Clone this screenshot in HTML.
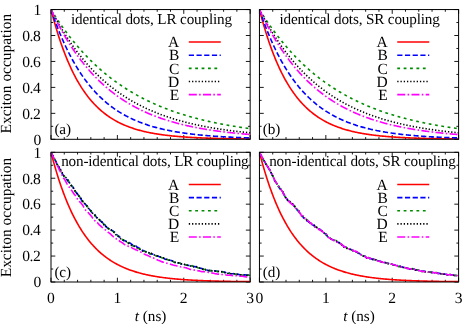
<!DOCTYPE html>
<html><head><meta charset="utf-8"><title>Exciton occupation</title>
<style>html,body{margin:0;padding:0;background:#fff}body{width:463px;height:324px;overflow:hidden}svg{will-change:transform;transform:translateZ(0)}text{text-rendering:geometricPrecision}</style>
</head><body>
<svg width="463" height="324" viewBox="0 0 463 324" style="display:block">
<rect width="463" height="324" fill="#fff"/>
<defs>
<clipPath id="c00"><rect x="51" y="9.55" width="199.15" height="129.75"/></clipPath>
<clipPath id="c01"><rect x="51" y="152.3" width="199.15" height="129.7"/></clipPath>
<clipPath id="c10"><rect x="259.45" y="9.55" width="199.15" height="129.75"/></clipPath>
<clipPath id="c11"><rect x="259.45" y="152.3" width="199.15" height="129.7"/></clipPath>
</defs>
<path d="M51 139.3v-4.3M51 9.55v4.3M64.28 139.3v-2.2M64.28 9.55v2.2M77.55 139.3v-2.2M77.55 9.55v2.2M90.83 139.3v-2.2M90.83 9.55v2.2M104.11 139.3v-2.2M104.11 9.55v2.2M117.38 139.3v-4.3M117.38 9.55v4.3M130.66 139.3v-2.2M130.66 9.55v2.2M143.94 139.3v-2.2M143.94 9.55v2.2M157.21 139.3v-2.2M157.21 9.55v2.2M170.49 139.3v-2.2M170.49 9.55v2.2M183.77 139.3v-4.3M183.77 9.55v4.3M197.04 139.3v-2.2M197.04 9.55v2.2M210.32 139.3v-2.2M210.32 9.55v2.2M223.6 139.3v-2.2M223.6 9.55v2.2M236.87 139.3v-2.2M236.87 9.55v2.2M250.15 139.3v-4.3M250.15 9.55v4.3M51 139.3h4.3M250.15 139.3h-4.3M51 126.33h2.2M250.15 126.33h-2.2M51 113.35h4.3M250.15 113.35h-4.3M51 100.38h2.2M250.15 100.38h-2.2M51 87.4h4.3M250.15 87.4h-4.3M51 74.43h2.2M250.15 74.43h-2.2M51 61.45h4.3M250.15 61.45h-4.3M51 48.48h2.2M250.15 48.48h-2.2M51 35.5h4.3M250.15 35.5h-4.3M51 22.53h2.2M250.15 22.53h-2.2M51 9.55h4.3M250.15 9.55h-4.3" stroke="#000" stroke-width="0.9" fill="none"/>
<g clip-path="url(#c00)" fill="none" stroke-width="1.6">
<polyline points="51,9.55 51.83,12.75 52.66,15.88 53.49,18.93 54.32,21.9 55.15,24.8 55.98,27.62 56.81,30.38 57.64,33.07 58.47,35.69 59.3,38.25 60.13,40.75 60.96,43.18 61.79,45.55 62.62,47.87 63.45,50.12 64.28,52.33 65.11,54.47 65.94,56.57 66.77,58.61 67.6,60.6 68.43,62.55 69.26,64.44 70.09,66.29 70.92,68.09 71.74,69.85 72.57,71.56 73.4,73.24 74.23,74.87 75.06,76.46 75.89,78.01 76.72,79.52 77.55,81 78.38,82.44 79.21,83.84 80.04,85.21 80.87,86.55 81.7,87.85 82.53,89.12 83.36,90.36 84.19,91.57 85.02,92.75 85.85,93.9 86.68,95.02 87.51,96.11 88.34,97.18 89.17,98.22 90,99.23 90.83,100.22 91.66,101.18 92.49,102.13 93.32,103.04 94.15,103.94 94.98,104.81 95.81,105.66 96.64,106.49 97.47,107.3 98.3,108.09 99.13,108.86 99.96,109.62 100.79,110.35 101.62,111.06 102.45,111.76 103.28,112.44 104.11,113.1 104.94,113.75 105.77,114.38 106.6,115 107.43,115.6 108.26,116.18 109.09,116.75 109.92,117.31 110.75,117.85 111.57,118.38 112.4,118.9 113.23,119.4 114.06,119.89 114.89,120.37 115.72,120.84 116.55,121.3 117.38,121.74 118.21,122.17 119.04,122.6 119.87,123.01 120.7,123.41 121.53,123.8 122.36,124.19 123.19,124.56 124.02,124.92 124.85,125.28 125.68,125.62 126.51,125.96 127.34,126.29 128.17,126.61 129,126.93 129.83,127.23 130.66,127.53 131.49,127.82 132.32,128.1 133.15,128.38 133.98,128.65 134.81,128.91 135.64,129.17 136.47,129.42 137.3,129.66 138.13,129.9 138.96,130.13 139.79,130.36 140.62,130.58 141.45,130.8 142.28,131.01 143.11,131.21 143.94,131.41 144.77,131.6 145.6,131.79 146.43,131.98 147.26,132.16 148.09,132.34 148.92,132.51 149.75,132.68 150.58,132.84 151.4,133 152.23,133.16 153.06,133.31 153.89,133.45 154.72,133.6 155.55,133.74 156.38,133.88 157.21,134.01 158.04,134.14 158.87,134.27 159.7,134.39 160.53,134.51 161.36,134.63 162.19,134.75 163.02,134.86 163.85,134.97 164.68,135.08 165.51,135.18 166.34,135.28 167.17,135.38 168,135.48 168.83,135.57 169.66,135.66 170.49,135.75 171.32,135.84 172.15,135.93 172.98,136.01 173.81,136.09 174.64,136.17 175.47,136.25 176.3,136.32 177.13,136.4 177.96,136.47 178.79,136.54 179.62,136.61 180.45,136.67 181.28,136.74 182.11,136.8 182.94,136.86 183.77,136.92 184.6,136.98 185.43,137.04 186.26,137.1 187.09,137.15 187.92,137.2 188.75,137.25 189.58,137.31 190.41,137.35 191.23,137.4 192.06,137.45 192.89,137.49 193.72,137.54 194.55,137.58 195.38,137.63 196.21,137.67 197.04,137.71 197.87,137.75 198.7,137.78 199.53,137.82 200.36,137.86 201.19,137.89 202.02,137.93 202.85,137.96 203.68,138 204.51,138.03 205.34,138.06 206.17,138.09 207,138.12 207.83,138.15 208.66,138.18 209.49,138.21 210.32,138.23 211.15,138.26 211.98,138.28 212.81,138.31 213.64,138.33 214.47,138.36 215.3,138.38 216.13,138.4 216.96,138.43 217.79,138.45 218.62,138.47 219.45,138.49 220.28,138.51 221.11,138.53 221.94,138.55 222.77,138.57 223.6,138.58 224.43,138.6 225.26,138.62 226.09,138.64 226.92,138.65 227.75,138.67 228.58,138.68 229.41,138.7 230.24,138.71 231.06,138.73 231.89,138.74 232.72,138.76 233.55,138.77 234.38,138.78 235.21,138.8 236.04,138.81 236.87,138.82 237.7,138.83 238.53,138.84 239.36,138.85 240.19,138.87 241.02,138.88 241.85,138.89 242.68,138.9 243.51,138.91 244.34,138.92 245.17,138.93 246,138.94 246.83,138.94 247.66,138.95 248.49,138.96 249.32,138.97 250.15,138.98" stroke="#ff0000"/>
<polyline points="51,9.55 51.83,11.98 52.66,14.37 53.49,16.72 54.32,19.02 55.15,21.27 55.98,23.49 56.81,25.66 57.64,27.79 58.47,29.88 59.3,31.94 60.13,33.95 60.96,35.93 61.79,37.87 62.62,39.77 63.45,41.64 64.28,43.47 65.11,45.27 65.94,47.03 66.77,48.76 67.6,50.46 68.43,52.13 69.26,53.76 70.09,55.37 70.92,56.94 71.74,58.49 72.57,60 73.4,61.49 74.23,62.95 75.06,64.38 75.89,65.79 76.72,67.17 77.55,68.52 78.38,69.85 79.21,71.15 80.04,72.43 80.87,73.69 81.7,74.92 82.53,76.12 83.36,77.31 84.19,78.47 85.02,79.61 85.85,80.73 86.68,81.83 87.51,82.91 88.34,83.97 89.17,85.01 90,86.03 90.83,87.02 91.66,88.01 92.49,88.97 93.32,89.91 94.15,90.84 94.98,91.75 95.81,92.64 96.64,93.52 97.47,94.37 98.3,95.22 99.13,96.04 99.96,96.86 100.79,97.65 101.62,98.43 102.45,99.2 103.28,99.95 104.11,100.69 104.94,101.42 105.77,102.13 106.6,102.82 107.43,103.51 108.26,104.18 109.09,104.84 109.92,105.48 110.75,106.12 111.57,106.74 112.4,107.35 113.23,107.95 114.06,108.54 114.89,109.12 115.72,109.68 116.55,110.24 117.38,110.78 118.21,111.32 119.04,111.84 119.87,112.36 120.7,112.86 121.53,113.36 122.36,113.85 123.19,114.32 124.02,114.79 124.85,115.25 125.68,115.7 126.51,116.15 127.34,116.58 128.17,117.01 129,117.43 129.83,117.84 130.66,118.24 131.49,118.63 132.32,119.02 133.15,119.4 133.98,119.78 134.81,120.14 135.64,120.5 136.47,120.85 137.3,121.2 138.13,121.54 138.96,121.87 139.79,122.2 140.62,122.52 141.45,122.84 142.28,123.14 143.11,123.45 143.94,123.74 144.77,124.04 145.6,124.32 146.43,124.6 147.26,124.88 148.09,125.15 148.92,125.42 149.75,125.68 150.58,125.93 151.4,126.18 152.23,126.43 153.06,126.67 153.89,126.91 154.72,127.14 155.55,127.37 156.38,127.59 157.21,127.81 158.04,128.03 158.87,128.24 159.7,128.45 160.53,128.65 161.36,128.85 162.19,129.05 163.02,129.24 163.85,129.43 164.68,129.61 165.51,129.79 166.34,129.97 167.17,130.15 168,130.32 168.83,130.49 169.66,130.65 170.49,130.81 171.32,130.97 172.15,131.13 172.98,131.28 173.81,131.43 174.64,131.58 175.47,131.73 176.3,131.87 177.13,132.01 177.96,132.14 178.79,132.28 179.62,132.41 180.45,132.54 181.28,132.67 182.11,132.79 182.94,132.91 183.77,133.03 184.6,133.15 185.43,133.27 186.26,133.38 187.09,133.49 187.92,133.6 188.75,133.71 189.58,133.81 190.41,133.91 191.23,134.02 192.06,134.11 192.89,134.21 193.72,134.31 194.55,134.4 195.38,134.49 196.21,134.58 197.04,134.67 197.87,134.76 198.7,134.84 199.53,134.93 200.36,135.01 201.19,135.09 202.02,135.17 202.85,135.25 203.68,135.32 204.51,135.4 205.34,135.47 206.17,135.54 207,135.61 207.83,135.68 208.66,135.75 209.49,135.82 210.32,135.88 211.15,135.95 211.98,136.01 212.81,136.07 213.64,136.13 214.47,136.19 215.3,136.25 216.13,136.31 216.96,136.36 217.79,136.42 218.62,136.47 219.45,136.52 220.28,136.58 221.11,136.63 221.94,136.68 222.77,136.73 223.6,136.78 224.43,136.82 225.26,136.87 226.09,136.91 226.92,136.96 227.75,137 228.58,137.05 229.41,137.09 230.24,137.13 231.06,137.17 231.89,137.21 232.72,137.25 233.55,137.29 234.38,137.33 235.21,137.36 236.04,137.4 236.87,137.44 237.7,137.47 238.53,137.5 239.36,137.54 240.19,137.57 241.02,137.6 241.85,137.64 242.68,137.67 243.51,137.7 244.34,137.73 245.17,137.76 246,137.79 246.83,137.81 247.66,137.84 248.49,137.87 249.32,137.9 250.15,137.92" stroke="#0000ff" stroke-dasharray="5.2 2.5"/>
<polyline points="51,9.55 51.83,10.89 52.66,12.23 53.49,13.54 54.32,14.85 55.15,16.13 55.98,17.41 56.81,18.67 57.64,19.92 58.47,21.16 59.3,22.39 60.13,23.6 60.96,24.8 61.79,25.98 62.62,27.16 63.45,28.32 64.28,29.47 65.11,30.61 65.94,31.73 66.77,32.85 67.6,33.95 68.43,35.04 69.26,36.12 70.09,37.19 70.92,38.25 71.74,39.3 72.57,40.33 73.4,41.36 74.23,42.37 75.06,43.38 75.89,44.37 76.72,45.36 77.55,46.33 78.38,47.29 79.21,48.25 80.04,49.19 80.87,50.12 81.7,51.05 82.53,51.96 83.36,52.87 84.19,53.76 85.02,54.65 85.85,55.53 86.68,56.4 87.51,57.25 88.34,58.1 89.17,58.95 90,59.78 90.83,60.6 91.66,61.42 92.49,62.23 93.32,63.02 94.15,63.81 94.98,64.6 95.81,65.37 96.64,66.14 97.47,66.89 98.3,67.65 99.13,68.39 99.96,69.12 100.79,69.85 101.62,70.57 102.45,71.28 103.28,71.99 104.11,72.68 104.94,73.37 105.77,74.06 106.6,74.73 107.43,75.4 108.26,76.06 109.09,76.72 109.92,77.37 110.75,78.01 111.57,78.65 112.4,79.27 113.23,79.9 114.06,80.51 114.89,81.12 115.72,81.72 116.55,82.32 117.38,82.91 118.21,83.5 119.04,84.07 119.87,84.65 120.7,85.21 121.53,85.77 122.36,86.33 123.19,86.88 124.02,87.42 124.85,87.96 125.68,88.49 126.51,89.02 127.34,89.54 128.17,90.05 129,90.56 129.83,91.07 130.66,91.57 131.49,92.06 132.32,92.55 133.15,93.04 133.98,93.52 134.81,93.99 135.64,94.46 136.47,94.92 137.3,95.38 138.13,95.84 138.96,96.29 139.79,96.74 140.62,97.18 141.45,97.61 142.28,98.04 143.11,98.47 143.94,98.9 144.77,99.31 145.6,99.73 146.43,100.14 147.26,100.54 148.09,100.95 148.92,101.34 149.75,101.74 150.58,102.13 151.4,102.51 152.23,102.89 153.06,103.27 153.89,103.64 154.72,104.01 155.55,104.38 156.38,104.74 157.21,105.1 158.04,105.45 158.87,105.8 159.7,106.15 160.53,106.49 161.36,106.83 162.19,107.17 163.02,107.5 163.85,107.83 164.68,108.16 165.51,108.48 166.34,108.8 167.17,109.12 168,109.43 168.83,109.74 169.66,110.05 170.49,110.35 171.32,110.65 172.15,110.95 172.98,111.24 173.81,111.53 174.64,111.82 175.47,112.1 176.3,112.38 177.13,112.66 177.96,112.94 178.79,113.21 179.62,113.48 180.45,113.75 181.28,114.02 182.11,114.28 182.94,114.54 183.77,114.79 184.6,115.05 185.43,115.3 186.26,115.55 187.09,115.79 187.92,116.04 188.75,116.28 189.58,116.52 190.41,116.75 191.23,116.99 192.06,117.22 192.89,117.45 193.72,117.67 194.55,117.9 195.38,118.12 196.21,118.34 197.04,118.56 197.87,118.77 198.7,118.98 199.53,119.19 200.36,119.4 201.19,119.61 202.02,119.81 202.85,120.01 203.68,120.21 204.51,120.41 205.34,120.61 206.17,120.8 207,120.99 207.83,121.18 208.66,121.37 209.49,121.56 210.32,121.74 211.15,121.92 211.98,122.1 212.81,122.28 213.64,122.46 214.47,122.63 215.3,122.8 216.13,122.98 216.96,123.14 217.79,123.31 218.62,123.48 219.45,123.64 220.28,123.8 221.11,123.96 221.94,124.12 222.77,124.28 223.6,124.44 224.43,124.59 225.26,124.74 226.09,124.89 226.92,125.04 227.75,125.19 228.58,125.34 229.41,125.48 230.24,125.62 231.06,125.77 231.89,125.91 232.72,126.05 233.55,126.18 234.38,126.32 235.21,126.45 236.04,126.59 236.87,126.72 237.7,126.85 238.53,126.98 239.36,127.1 240.19,127.23 241.02,127.36 241.85,127.48 242.68,127.6 243.51,127.72 244.34,127.84 245.17,127.96 246,128.08 246.83,128.2 247.66,128.31 248.49,128.43 249.32,128.54 250.15,128.65" stroke="#008c00" stroke-dasharray="2.8 3.6"/>
<polyline points="51,9.55 51.83,11.16 52.66,12.75 53.49,14.33 54.32,15.88 55.15,17.41 55.98,18.93 56.81,20.42 57.64,21.9 58.47,23.36 59.3,24.8 60.13,26.22 60.96,27.62 61.79,29.01 62.62,30.38 63.45,31.73 64.28,33.07 65.11,34.39 65.94,35.69 66.77,36.98 67.6,38.25 68.43,39.51 69.26,40.75 70.09,41.97 70.92,43.18 71.74,44.37 72.57,45.55 73.4,46.72 74.23,47.87 75.06,49 75.89,50.12 76.72,51.23 77.55,52.33 78.38,53.41 79.21,54.47 80.04,55.53 80.87,56.57 81.7,57.6 82.53,58.61 83.36,59.61 84.19,60.6 85.02,61.58 85.85,62.55 86.68,63.5 87.51,64.44 88.34,65.37 89.17,66.29 90,67.2 90.83,68.09 91.66,68.98 92.49,69.85 93.32,70.71 94.15,71.56 94.98,72.41 95.81,73.24 96.64,74.06 97.47,74.87 98.3,75.67 99.13,76.46 99.96,77.24 100.79,78.01 101.62,78.77 102.45,79.52 103.28,80.27 104.11,81 104.94,81.72 105.77,82.44 106.6,83.15 107.43,83.84 108.26,84.53 109.09,85.21 109.92,85.88 110.75,86.55 111.57,87.2 112.4,87.85 113.23,88.49 114.06,89.12 114.89,89.74 115.72,90.36 116.55,90.97 117.38,91.57 118.21,92.16 119.04,92.75 119.87,93.32 120.7,93.9 121.53,94.46 122.36,95.02 123.19,95.57 124.02,96.11 124.85,96.65 125.68,97.18 126.51,97.7 127.34,98.22 128.17,98.73 129,99.23 129.83,99.73 130.66,100.22 131.49,100.71 132.32,101.18 133.15,101.66 133.98,102.13 134.81,102.59 135.64,103.04 136.47,103.49 137.3,103.94 138.13,104.38 138.96,104.81 139.79,105.24 140.62,105.66 141.45,106.08 142.28,106.49 143.11,106.9 143.94,107.3 144.77,107.7 145.6,108.09 146.43,108.48 147.26,108.86 148.09,109.24 148.92,109.62 149.75,109.98 150.58,110.35 151.4,110.71 152.23,111.06 153.06,111.41 153.89,111.76 154.72,112.1 155.55,112.44 156.38,112.77 157.21,113.1 158.04,113.43 158.87,113.75 159.7,114.07 160.53,114.38 161.36,114.69 162.19,115 163.02,115.3 163.85,115.6 164.68,115.89 165.51,116.18 166.34,116.47 167.17,116.75 168,117.03 168.83,117.31 169.66,117.58 170.49,117.85 171.32,118.12 172.15,118.38 172.98,118.64 173.81,118.9 174.64,119.15 175.47,119.4 176.3,119.65 177.13,119.89 177.96,120.13 178.79,120.37 179.62,120.61 180.45,120.84 181.28,121.07 182.11,121.3 182.94,121.52 183.77,121.74 184.6,121.96 185.43,122.17 186.26,122.39 187.09,122.6 187.92,122.8 188.75,123.01 189.58,123.21 190.41,123.41 191.23,123.61 192.06,123.8 192.89,124 193.72,124.19 194.55,124.37 195.38,124.56 196.21,124.74 197.04,124.92 197.87,125.1 198.7,125.28 199.53,125.45 200.36,125.62 201.19,125.79 202.02,125.96 202.85,126.13 203.68,126.29 204.51,126.45 205.34,126.61 206.17,126.77 207,126.93 207.83,127.08 208.66,127.23 209.49,127.38 210.32,127.53 211.15,127.68 211.98,127.82 212.81,127.96 213.64,128.1 214.47,128.24 215.3,128.38 216.13,128.52 216.96,128.65 217.79,128.78 218.62,128.91 219.45,129.04 220.28,129.17 221.11,129.29 221.94,129.42 222.77,129.54 223.6,129.66 224.43,129.78 225.26,129.9 226.09,130.02 226.92,130.13 227.75,130.25 228.58,130.36 229.41,130.47 230.24,130.58 231.06,130.69 231.89,130.8 232.72,130.9 233.55,131.01 234.38,131.11 235.21,131.21 236.04,131.31 236.87,131.41 237.7,131.51 238.53,131.6 239.36,131.7 240.19,131.79 241.02,131.89 241.85,131.98 242.68,132.07 243.51,132.16 244.34,132.25 245.17,132.34 246,132.42 246.83,132.51 247.66,132.59 248.49,132.68 249.32,132.76 250.15,132.84" stroke="#000000" stroke-dasharray="1.3 1.94"/>
<polyline points="51,9.55 51.83,11.32 52.66,13.07 53.49,14.79 54.32,16.49 55.15,18.16 55.98,19.81 56.81,21.44 57.64,23.05 58.47,24.64 59.3,26.2 60.13,27.75 60.96,29.27 61.79,30.77 62.62,32.25 63.45,33.71 64.28,35.15 65.11,36.57 65.94,37.97 66.77,39.35 67.6,40.72 68.43,42.06 69.26,43.39 70.09,44.7 70.92,45.99 71.74,47.26 72.57,48.52 73.4,49.76 74.23,50.98 75.06,52.18 75.89,53.37 76.72,54.54 77.55,55.7 78.38,56.84 79.21,57.96 80.04,59.07 80.87,60.17 81.7,61.25 82.53,62.31 83.36,63.36 84.19,64.4 85.02,65.42 85.85,66.43 86.68,67.42 87.51,68.4 88.34,69.37 89.17,70.33 90,71.27 90.83,72.19 91.66,73.11 92.49,74.01 93.32,74.9 94.15,75.78 94.98,76.65 95.81,77.5 96.64,78.35 97.47,79.18 98.3,80 99.13,80.81 99.96,81.61 100.79,82.39 101.62,83.17 102.45,83.93 103.28,84.69 104.11,85.43 104.94,86.17 105.77,86.89 106.6,87.61 107.43,88.31 108.26,89.01 109.09,89.7 109.92,90.37 110.75,91.04 111.57,91.7 112.4,92.35 113.23,92.99 114.06,93.62 114.89,94.24 115.72,94.86 116.55,95.46 117.38,96.06 118.21,96.65 119.04,97.23 119.87,97.81 120.7,98.37 121.53,98.93 122.36,99.48 123.19,100.03 124.02,100.56 124.85,101.09 125.68,101.61 126.51,102.13 127.34,102.63 128.17,103.13 129,103.63 129.83,104.11 130.66,104.59 131.49,105.07 132.32,105.53 133.15,105.99 133.98,106.45 134.81,106.9 135.64,107.34 136.47,107.78 137.3,108.21 138.13,108.63 138.96,109.05 139.79,109.46 140.62,109.87 141.45,110.27 142.28,110.67 143.11,111.06 143.94,111.44 144.77,111.82 145.6,112.2 146.43,112.57 147.26,112.93 148.09,113.29 148.92,113.65 149.75,114 150.58,114.34 151.4,114.68 152.23,115.02 153.06,115.35 153.89,115.67 154.72,116 155.55,116.32 156.38,116.63 157.21,116.94 158.04,117.24 158.87,117.54 159.7,117.84 160.53,118.13 161.36,118.42 162.19,118.71 163.02,118.99 163.85,119.27 164.68,119.54 165.51,119.81 166.34,120.07 167.17,120.34 168,120.59 168.83,120.85 169.66,121.1 170.49,121.35 171.32,121.59 172.15,121.84 172.98,122.07 173.81,122.31 174.64,122.54 175.47,122.77 176.3,123 177.13,123.22 177.96,123.44 178.79,123.65 179.62,123.87 180.45,124.08 181.28,124.29 182.11,124.49 182.94,124.69 183.77,124.89 184.6,125.09 185.43,125.28 186.26,125.47 187.09,125.66 187.92,125.85 188.75,126.03 189.58,126.21 190.41,126.39 191.23,126.57 192.06,126.74 192.89,126.91 193.72,127.08 194.55,127.25 195.38,127.41 196.21,127.57 197.04,127.73 197.87,127.89 198.7,128.05 199.53,128.2 200.36,128.35 201.19,128.5 202.02,128.65 202.85,128.79 203.68,128.94 204.51,129.08 205.34,129.22 206.17,129.36 207,129.49 207.83,129.63 208.66,129.76 209.49,129.89 210.32,130.02 211.15,130.14 211.98,130.27 212.81,130.39 213.64,130.51 214.47,130.63 215.3,130.75 216.13,130.87 216.96,130.98 217.79,131.1 218.62,131.21 219.45,131.32 220.28,131.43 221.11,131.53 221.94,131.64 222.77,131.75 223.6,131.85 224.43,131.95 225.26,132.05 226.09,132.15 226.92,132.25 227.75,132.34 228.58,132.44 229.41,132.53 230.24,132.62 231.06,132.71 231.89,132.8 232.72,132.89 233.55,132.98 234.38,133.07 235.21,133.15 236.04,133.24 236.87,133.32 237.7,133.4 238.53,133.48 239.36,133.56 240.19,133.64 241.02,133.72 241.85,133.79 242.68,133.87 243.51,133.94 244.34,134.01 245.17,134.09 246,134.16 246.83,134.23 247.66,134.3 248.49,134.36 249.32,134.43 250.15,134.5" stroke="#ff00ff" stroke-dasharray="8 2.3 1.6 2.3"/>
</g>
<rect x="51" y="9.55" width="199.15" height="129.75" fill="none" stroke="#000" stroke-width="1"/>
<g font-family='"Liberation Serif", serif' font-size="15.2" fill="#000">
<text x="70.9" y="24" letter-spacing="-0.16">identical dots, LR coupling</text>
<text x="54.4" y="134.3" letter-spacing="-0.1">(a)</text>
<text x="179.3" y="47.3" font-size="15.5" text-anchor="end">A</text>
<path d="M188.8 42.05H220.8" stroke="#ff0000" stroke-width="1.6" fill="none"/>
<text x="179.3" y="60.45" font-size="15.5" text-anchor="end">B</text>
<path d="M188.8 55.2H220.8" stroke="#0000ff" stroke-width="1.6" stroke-dasharray="5.2 2.5" fill="none"/>
<text x="179.3" y="73.6" font-size="15.5" text-anchor="end">C</text>
<path d="M188.8 68.35H220.8" stroke="#008c00" stroke-width="1.6" stroke-dasharray="2.8 3.6" fill="none"/>
<text x="179.3" y="86.75" font-size="15.5" text-anchor="end">D</text>
<path d="M188.8 81.5H220.8" stroke="#000000" stroke-width="1.6" stroke-dasharray="1.3 1.94" fill="none"/>
<text x="179.3" y="99.9" font-size="15.5" text-anchor="end">E</text>
<path d="M188.8 94.65H220.8" stroke="#ff00ff" stroke-width="1.6" stroke-dasharray="8 2.3 1.6 2.3" fill="none"/>
<text x="41.2" y="144.6" font-size="15.6" text-anchor="end">0</text>
<text x="40.3" y="118.65" font-size="15.6" text-anchor="end" letter-spacing="-0.45">0.2</text>
<text x="40.3" y="92.7" font-size="15.6" text-anchor="end" letter-spacing="-0.45">0.4</text>
<text x="40.3" y="66.75" font-size="15.6" text-anchor="end" letter-spacing="-0.45">0.6</text>
<text x="40.3" y="40.8" font-size="15.6" text-anchor="end" letter-spacing="-0.45">0.8</text>
<text x="41.2" y="14.85" font-size="15.6" text-anchor="end">1</text>
<text transform="translate(11.1 73.7) rotate(-90)" font-size="15.45" text-anchor="middle">Exciton occupation</text>
</g>
<path d="M259.45 139.3v-4.3M259.45 9.55v4.3M272.73 139.3v-2.2M272.73 9.55v2.2M286 139.3v-2.2M286 9.55v2.2M299.28 139.3v-2.2M299.28 9.55v2.2M312.56 139.3v-2.2M312.56 9.55v2.2M325.83 139.3v-4.3M325.83 9.55v4.3M339.11 139.3v-2.2M339.11 9.55v2.2M352.39 139.3v-2.2M352.39 9.55v2.2M365.66 139.3v-2.2M365.66 9.55v2.2M378.94 139.3v-2.2M378.94 9.55v2.2M392.22 139.3v-4.3M392.22 9.55v4.3M405.49 139.3v-2.2M405.49 9.55v2.2M418.77 139.3v-2.2M418.77 9.55v2.2M432.05 139.3v-2.2M432.05 9.55v2.2M445.32 139.3v-2.2M445.32 9.55v2.2M458.6 139.3v-4.3M458.6 9.55v4.3M259.45 139.3h4.3M458.6 139.3h-4.3M259.45 126.33h2.2M458.6 126.33h-2.2M259.45 113.35h4.3M458.6 113.35h-4.3M259.45 100.38h2.2M458.6 100.38h-2.2M259.45 87.4h4.3M458.6 87.4h-4.3M259.45 74.43h2.2M458.6 74.43h-2.2M259.45 61.45h4.3M458.6 61.45h-4.3M259.45 48.48h2.2M458.6 48.48h-2.2M259.45 35.5h4.3M458.6 35.5h-4.3M259.45 22.53h2.2M458.6 22.53h-2.2M259.45 9.55h4.3M458.6 9.55h-4.3" stroke="#000" stroke-width="0.9" fill="none"/>
<g clip-path="url(#c10)" fill="none" stroke-width="1.6">
<polyline points="259.45,9.55 260.28,12.75 261.11,15.88 261.94,18.93 262.77,21.9 263.6,24.8 264.43,27.62 265.26,30.38 266.09,33.07 266.92,35.69 267.75,38.25 268.58,40.75 269.41,43.18 270.24,45.55 271.07,47.87 271.9,50.12 272.73,52.33 273.56,54.47 274.39,56.57 275.22,58.61 276.05,60.6 276.88,62.55 277.71,64.44 278.54,66.29 279.37,68.09 280.19,69.85 281.02,71.56 281.85,73.24 282.68,74.87 283.51,76.46 284.34,78.01 285.17,79.52 286,81 286.83,82.44 287.66,83.84 288.49,85.21 289.32,86.55 290.15,87.85 290.98,89.12 291.81,90.36 292.64,91.57 293.47,92.75 294.3,93.9 295.13,95.02 295.96,96.11 296.79,97.18 297.62,98.22 298.45,99.23 299.28,100.22 300.11,101.18 300.94,102.13 301.77,103.04 302.6,103.94 303.43,104.81 304.26,105.66 305.09,106.49 305.92,107.3 306.75,108.09 307.58,108.86 308.41,109.62 309.24,110.35 310.07,111.06 310.9,111.76 311.73,112.44 312.56,113.1 313.39,113.75 314.22,114.38 315.05,115 315.88,115.6 316.71,116.18 317.54,116.75 318.37,117.31 319.19,117.85 320.02,118.38 320.85,118.9 321.68,119.4 322.51,119.89 323.34,120.37 324.17,120.84 325,121.3 325.83,121.74 326.66,122.17 327.49,122.6 328.32,123.01 329.15,123.41 329.98,123.8 330.81,124.19 331.64,124.56 332.47,124.92 333.3,125.28 334.13,125.62 334.96,125.96 335.79,126.29 336.62,126.61 337.45,126.93 338.28,127.23 339.11,127.53 339.94,127.82 340.77,128.1 341.6,128.38 342.43,128.65 343.26,128.91 344.09,129.17 344.92,129.42 345.75,129.66 346.58,129.9 347.41,130.13 348.24,130.36 349.07,130.58 349.9,130.8 350.73,131.01 351.56,131.21 352.39,131.41 353.22,131.6 354.05,131.79 354.88,131.98 355.71,132.16 356.54,132.34 357.37,132.51 358.2,132.68 359.02,132.84 359.85,133 360.68,133.16 361.51,133.31 362.34,133.45 363.17,133.6 364,133.74 364.83,133.88 365.66,134.01 366.49,134.14 367.32,134.27 368.15,134.39 368.98,134.51 369.81,134.63 370.64,134.75 371.47,134.86 372.3,134.97 373.13,135.08 373.96,135.18 374.79,135.28 375.62,135.38 376.45,135.48 377.28,135.57 378.11,135.66 378.94,135.75 379.77,135.84 380.6,135.93 381.43,136.01 382.26,136.09 383.09,136.17 383.92,136.25 384.75,136.32 385.58,136.4 386.41,136.47 387.24,136.54 388.07,136.61 388.9,136.67 389.73,136.74 390.56,136.8 391.39,136.86 392.22,136.92 393.05,136.98 393.88,137.04 394.71,137.1 395.54,137.15 396.37,137.2 397.2,137.25 398.03,137.31 398.86,137.35 399.68,137.4 400.51,137.45 401.34,137.49 402.17,137.54 403,137.58 403.83,137.63 404.66,137.67 405.49,137.71 406.32,137.75 407.15,137.78 407.98,137.82 408.81,137.86 409.64,137.89 410.47,137.93 411.3,137.96 412.13,138 412.96,138.03 413.79,138.06 414.62,138.09 415.45,138.12 416.28,138.15 417.11,138.18 417.94,138.21 418.77,138.23 419.6,138.26 420.43,138.28 421.26,138.31 422.09,138.33 422.92,138.36 423.75,138.38 424.58,138.4 425.41,138.43 426.24,138.45 427.07,138.47 427.9,138.49 428.73,138.51 429.56,138.53 430.39,138.55 431.22,138.57 432.05,138.58 432.88,138.6 433.71,138.62 434.54,138.64 435.37,138.65 436.2,138.67 437.03,138.68 437.86,138.7 438.69,138.71 439.51,138.73 440.34,138.74 441.17,138.76 442,138.77 442.83,138.78 443.66,138.8 444.49,138.81 445.32,138.82 446.15,138.83 446.98,138.84 447.81,138.85 448.64,138.87 449.47,138.88 450.3,138.89 451.13,138.9 451.96,138.91 452.79,138.92 453.62,138.93 454.45,138.94 455.28,138.94 456.11,138.95 456.94,138.96 457.77,138.97 458.6,138.98" stroke="#ff0000"/>
<polyline points="259.45,9.55 260.28,12 261.11,14.41 261.94,16.77 262.77,19.09 263.6,21.36 264.43,23.59 265.26,25.78 266.09,27.92 266.92,30.03 267.75,32.09 268.58,34.12 269.41,36.11 270.24,38.06 271.07,39.97 271.9,41.85 272.73,43.69 273.56,45.5 274.39,47.27 275.22,49.01 276.05,50.72 276.88,52.39 277.71,54.04 278.54,55.65 279.37,57.23 280.19,58.78 281.02,60.3 281.85,61.8 282.68,63.26 283.51,64.7 284.34,66.11 285.17,67.49 286,68.85 286.83,70.18 287.66,71.49 288.49,72.77 289.32,74.03 290.15,75.26 290.98,76.47 291.81,77.66 292.64,78.82 293.47,79.97 294.3,81.09 295.13,82.19 295.96,83.27 296.79,84.33 297.62,85.37 298.45,86.39 299.28,87.39 300.11,88.37 300.94,89.33 301.77,90.28 302.6,91.2 303.43,92.11 304.26,93 305.09,93.88 305.92,94.74 306.75,95.58 307.58,96.41 308.41,97.22 309.24,98.01 310.07,98.79 310.9,99.56 311.73,100.31 312.56,101.05 313.39,101.77 314.22,102.48 315.05,103.18 315.88,103.86 316.71,104.53 317.54,105.19 318.37,105.83 319.19,106.46 320.02,107.08 320.85,107.69 321.68,108.29 322.51,108.88 323.34,109.45 324.17,110.02 325,110.57 325.83,111.11 326.66,111.64 327.49,112.17 328.32,112.68 329.15,113.18 329.98,113.68 330.81,114.16 331.64,114.64 332.47,115.1 333.3,115.56 334.13,116.01 334.96,116.45 335.79,116.88 336.62,117.31 337.45,117.72 338.28,118.13 339.11,118.53 339.94,118.92 340.77,119.31 341.6,119.68 342.43,120.06 343.26,120.42 344.09,120.78 344.92,121.13 345.75,121.47 346.58,121.81 347.41,122.14 348.24,122.46 349.07,122.78 349.9,123.09 350.73,123.4 351.56,123.7 352.39,123.99 353.22,124.28 354.05,124.57 354.88,124.85 355.71,125.12 356.54,125.39 357.37,125.65 358.2,125.91 359.02,126.16 359.85,126.41 360.68,126.65 361.51,126.89 362.34,127.13 363.17,127.36 364,127.58 364.83,127.8 365.66,128.02 366.49,128.24 367.32,128.44 368.15,128.65 368.98,128.85 369.81,129.05 370.64,129.24 371.47,129.43 372.3,129.62 373.13,129.8 373.96,129.98 374.79,130.16 375.62,130.33 376.45,130.5 377.28,130.67 378.11,130.83 378.94,130.99 379.77,131.15 380.6,131.3 381.43,131.45 382.26,131.6 383.09,131.75 383.92,131.89 384.75,132.03 385.58,132.17 386.41,132.3 387.24,132.43 388.07,132.56 388.9,132.69 389.73,132.82 390.56,132.94 391.39,133.06 392.22,133.18 393.05,133.29 393.88,133.41 394.71,133.52 395.54,133.63 396.37,133.73 397.2,133.84 398.03,133.94 398.86,134.04 399.68,134.14 400.51,134.24 401.34,134.34 402.17,134.43 403,134.52 403.83,134.61 404.66,134.7 405.49,134.79 406.32,134.87 407.15,134.96 407.98,135.04 408.81,135.12 409.64,135.2 410.47,135.28 411.3,135.35 412.13,135.43 412.96,135.5 413.79,135.57 414.62,135.64 415.45,135.71 416.28,135.78 417.11,135.85 417.94,135.91 418.77,135.97 419.6,136.04 420.43,136.1 421.26,136.16 422.09,136.22 422.92,136.28 423.75,136.33 424.58,136.39 425.41,136.45 426.24,136.5 427.07,136.55 427.9,136.6 428.73,136.66 429.56,136.71 430.39,136.75 431.22,136.8 432.05,136.85 432.88,136.9 433.71,136.94 434.54,136.99 435.37,137.03 436.2,137.07 437.03,137.11 437.86,137.16 438.69,137.2 439.51,137.24 440.34,137.28 441.17,137.31 442,137.35 442.83,137.39 443.66,137.42 444.49,137.46 445.32,137.49 446.15,137.53 446.98,137.56 447.81,137.6 448.64,137.63 449.47,137.66 450.3,137.69 451.13,137.72 451.96,137.75 452.79,137.78 453.62,137.81 454.45,137.84 455.28,137.86 456.11,137.89 456.94,137.92 457.77,137.94 458.6,137.97" stroke="#0000ff" stroke-dasharray="5.2 2.5"/>
<polyline points="259.45,9.55 260.28,10.89 261.11,12.23 261.94,13.54 262.77,14.85 263.6,16.13 264.43,17.41 265.26,18.67 266.09,19.92 266.92,21.16 267.75,22.39 268.58,23.6 269.41,24.8 270.24,25.98 271.07,27.16 271.9,28.32 272.73,29.47 273.56,30.61 274.39,31.73 275.22,32.85 276.05,33.95 276.88,35.04 277.71,36.12 278.54,37.19 279.37,38.25 280.19,39.3 281.02,40.33 281.85,41.36 282.68,42.37 283.51,43.38 284.34,44.37 285.17,45.36 286,46.33 286.83,47.29 287.66,48.25 288.49,49.19 289.32,50.12 290.15,51.05 290.98,51.96 291.81,52.87 292.64,53.76 293.47,54.65 294.3,55.53 295.13,56.4 295.96,57.25 296.79,58.1 297.62,58.95 298.45,59.78 299.28,60.6 300.11,61.42 300.94,62.23 301.77,63.02 302.6,63.81 303.43,64.6 304.26,65.37 305.09,66.14 305.92,66.89 306.75,67.65 307.58,68.39 308.41,69.12 309.24,69.85 310.07,70.57 310.9,71.28 311.73,71.99 312.56,72.68 313.39,73.37 314.22,74.06 315.05,74.73 315.88,75.4 316.71,76.06 317.54,76.72 318.37,77.37 319.19,78.01 320.02,78.65 320.85,79.27 321.68,79.9 322.51,80.51 323.34,81.12 324.17,81.72 325,82.32 325.83,82.91 326.66,83.5 327.49,84.07 328.32,84.65 329.15,85.21 329.98,85.77 330.81,86.33 331.64,86.88 332.47,87.42 333.3,87.96 334.13,88.49 334.96,89.02 335.79,89.54 336.62,90.05 337.45,90.56 338.28,91.07 339.11,91.57 339.94,92.06 340.77,92.55 341.6,93.04 342.43,93.52 343.26,93.99 344.09,94.46 344.92,94.92 345.75,95.38 346.58,95.84 347.41,96.29 348.24,96.74 349.07,97.18 349.9,97.61 350.73,98.04 351.56,98.47 352.39,98.9 353.22,99.31 354.05,99.73 354.88,100.14 355.71,100.54 356.54,100.95 357.37,101.34 358.2,101.74 359.02,102.13 359.85,102.51 360.68,102.89 361.51,103.27 362.34,103.64 363.17,104.01 364,104.38 364.83,104.74 365.66,105.1 366.49,105.45 367.32,105.8 368.15,106.15 368.98,106.49 369.81,106.83 370.64,107.17 371.47,107.5 372.3,107.83 373.13,108.16 373.96,108.48 374.79,108.8 375.62,109.12 376.45,109.43 377.28,109.74 378.11,110.05 378.94,110.35 379.77,110.65 380.6,110.95 381.43,111.24 382.26,111.53 383.09,111.82 383.92,112.1 384.75,112.38 385.58,112.66 386.41,112.94 387.24,113.21 388.07,113.48 388.9,113.75 389.73,114.02 390.56,114.28 391.39,114.54 392.22,114.79 393.05,115.05 393.88,115.3 394.71,115.55 395.54,115.79 396.37,116.04 397.2,116.28 398.03,116.52 398.86,116.75 399.68,116.99 400.51,117.22 401.34,117.45 402.17,117.67 403,117.9 403.83,118.12 404.66,118.34 405.49,118.56 406.32,118.77 407.15,118.98 407.98,119.19 408.81,119.4 409.64,119.61 410.47,119.81 411.3,120.01 412.13,120.21 412.96,120.41 413.79,120.61 414.62,120.8 415.45,120.99 416.28,121.18 417.11,121.37 417.94,121.56 418.77,121.74 419.6,121.92 420.43,122.1 421.26,122.28 422.09,122.46 422.92,122.63 423.75,122.8 424.58,122.98 425.41,123.14 426.24,123.31 427.07,123.48 427.9,123.64 428.73,123.8 429.56,123.96 430.39,124.12 431.22,124.28 432.05,124.44 432.88,124.59 433.71,124.74 434.54,124.89 435.37,125.04 436.2,125.19 437.03,125.34 437.86,125.48 438.69,125.62 439.51,125.77 440.34,125.91 441.17,126.05 442,126.18 442.83,126.32 443.66,126.45 444.49,126.59 445.32,126.72 446.15,126.85 446.98,126.98 447.81,127.1 448.64,127.23 449.47,127.36 450.3,127.48 451.13,127.6 451.96,127.72 452.79,127.84 453.62,127.96 454.45,128.08 455.28,128.2 456.11,128.31 456.94,128.43 457.77,128.54 458.6,128.65" stroke="#008c00" stroke-dasharray="2.8 3.6"/>
<polyline points="259.45,9.55 260.28,11.16 261.11,12.75 261.94,14.33 262.77,15.88 263.6,17.41 264.43,18.93 265.26,20.42 266.09,21.9 266.92,23.36 267.75,24.8 268.58,26.22 269.41,27.62 270.24,29.01 271.07,30.38 271.9,31.73 272.73,33.07 273.56,34.39 274.39,35.69 275.22,36.98 276.05,38.25 276.88,39.51 277.71,40.75 278.54,41.97 279.37,43.18 280.19,44.37 281.02,45.55 281.85,46.72 282.68,47.87 283.51,49 284.34,50.12 285.17,51.23 286,52.33 286.83,53.41 287.66,54.47 288.49,55.53 289.32,56.57 290.15,57.6 290.98,58.61 291.81,59.61 292.64,60.6 293.47,61.58 294.3,62.55 295.13,63.5 295.96,64.44 296.79,65.37 297.62,66.29 298.45,67.2 299.28,68.09 300.11,68.98 300.94,69.85 301.77,70.71 302.6,71.56 303.43,72.41 304.26,73.24 305.09,74.06 305.92,74.87 306.75,75.67 307.58,76.46 308.41,77.24 309.24,78.01 310.07,78.77 310.9,79.52 311.73,80.27 312.56,81 313.39,81.72 314.22,82.44 315.05,83.15 315.88,83.84 316.71,84.53 317.54,85.21 318.37,85.88 319.19,86.55 320.02,87.2 320.85,87.85 321.68,88.49 322.51,89.12 323.34,89.74 324.17,90.36 325,90.97 325.83,91.57 326.66,92.16 327.49,92.75 328.32,93.32 329.15,93.9 329.98,94.46 330.81,95.02 331.64,95.57 332.47,96.11 333.3,96.65 334.13,97.18 334.96,97.7 335.79,98.22 336.62,98.73 337.45,99.23 338.28,99.73 339.11,100.22 339.94,100.71 340.77,101.18 341.6,101.66 342.43,102.13 343.26,102.59 344.09,103.04 344.92,103.49 345.75,103.94 346.58,104.38 347.41,104.81 348.24,105.24 349.07,105.66 349.9,106.08 350.73,106.49 351.56,106.9 352.39,107.3 353.22,107.7 354.05,108.09 354.88,108.48 355.71,108.86 356.54,109.24 357.37,109.62 358.2,109.98 359.02,110.35 359.85,110.71 360.68,111.06 361.51,111.41 362.34,111.76 363.17,112.1 364,112.44 364.83,112.77 365.66,113.1 366.49,113.43 367.32,113.75 368.15,114.07 368.98,114.38 369.81,114.69 370.64,115 371.47,115.3 372.3,115.6 373.13,115.89 373.96,116.18 374.79,116.47 375.62,116.75 376.45,117.03 377.28,117.31 378.11,117.58 378.94,117.85 379.77,118.12 380.6,118.38 381.43,118.64 382.26,118.9 383.09,119.15 383.92,119.4 384.75,119.65 385.58,119.89 386.41,120.13 387.24,120.37 388.07,120.61 388.9,120.84 389.73,121.07 390.56,121.3 391.39,121.52 392.22,121.74 393.05,121.96 393.88,122.17 394.71,122.39 395.54,122.6 396.37,122.8 397.2,123.01 398.03,123.21 398.86,123.41 399.68,123.61 400.51,123.8 401.34,124 402.17,124.19 403,124.37 403.83,124.56 404.66,124.74 405.49,124.92 406.32,125.1 407.15,125.28 407.98,125.45 408.81,125.62 409.64,125.79 410.47,125.96 411.3,126.13 412.13,126.29 412.96,126.45 413.79,126.61 414.62,126.77 415.45,126.93 416.28,127.08 417.11,127.23 417.94,127.38 418.77,127.53 419.6,127.68 420.43,127.82 421.26,127.96 422.09,128.1 422.92,128.24 423.75,128.38 424.58,128.52 425.41,128.65 426.24,128.78 427.07,128.91 427.9,129.04 428.73,129.17 429.56,129.29 430.39,129.42 431.22,129.54 432.05,129.66 432.88,129.78 433.71,129.9 434.54,130.02 435.37,130.13 436.2,130.25 437.03,130.36 437.86,130.47 438.69,130.58 439.51,130.69 440.34,130.8 441.17,130.9 442,131.01 442.83,131.11 443.66,131.21 444.49,131.31 445.32,131.41 446.15,131.51 446.98,131.6 447.81,131.7 448.64,131.79 449.47,131.89 450.3,131.98 451.13,132.07 451.96,132.16 452.79,132.25 453.62,132.34 454.45,132.42 455.28,132.51 456.11,132.59 456.94,132.68 457.77,132.76 458.6,132.84" stroke="#000000" stroke-dasharray="1.3 1.94"/>
<polyline points="259.45,9.55 260.28,11.33 261.11,13.09 261.94,14.82 262.77,16.52 263.6,18.21 264.43,19.87 265.26,21.51 266.09,23.12 266.92,24.72 267.75,26.29 268.58,27.84 269.41,29.37 270.24,30.88 271.07,32.36 271.9,33.83 272.73,35.28 273.56,36.7 274.39,38.11 275.22,39.5 276.05,40.87 276.88,42.22 277.71,43.55 278.54,44.86 279.37,46.16 280.19,47.44 281.02,48.7 281.85,49.94 282.68,51.17 283.51,52.37 284.34,53.57 285.17,54.74 286,55.9 286.83,57.05 287.66,58.17 288.49,59.29 289.32,60.38 290.15,61.47 290.98,62.54 291.81,63.59 292.64,64.63 293.47,65.65 294.3,66.66 295.13,67.66 295.96,68.64 296.79,69.61 297.62,70.57 298.45,71.51 299.28,72.44 300.11,73.36 300.94,74.26 301.77,75.15 302.6,76.03 303.43,76.9 304.26,77.76 305.09,78.6 305.92,79.43 306.75,80.25 307.58,81.06 308.41,81.86 309.24,82.65 310.07,83.43 310.9,84.19 311.73,84.95 312.56,85.7 313.39,86.43 314.22,87.16 315.05,87.87 315.88,88.58 316.71,89.27 317.54,89.96 318.37,90.64 319.19,91.3 320.02,91.96 320.85,92.61 321.68,93.25 322.51,93.88 323.34,94.51 324.17,95.12 325,95.73 325.83,96.32 326.66,96.91 327.49,97.5 328.32,98.07 329.15,98.63 329.98,99.19 330.81,99.74 331.64,100.28 332.47,100.82 333.3,101.35 334.13,101.87 334.96,102.38 335.79,102.89 336.62,103.39 337.45,103.88 338.28,104.37 339.11,104.85 339.94,105.32 340.77,105.78 341.6,106.24 342.43,106.7 343.26,107.14 344.09,107.59 344.92,108.02 345.75,108.45 346.58,108.87 347.41,109.29 348.24,109.7 349.07,110.11 349.9,110.51 350.73,110.9 351.56,111.29 352.39,111.68 353.22,112.06 354.05,112.43 354.88,112.8 355.71,113.16 356.54,113.52 357.37,113.87 358.2,114.22 359.02,114.57 359.85,114.91 360.68,115.24 361.51,115.57 362.34,115.9 363.17,116.22 364,116.53 364.83,116.85 365.66,117.15 366.49,117.46 367.32,117.76 368.15,118.05 368.98,118.34 369.81,118.63 370.64,118.92 371.47,119.19 372.3,119.47 373.13,119.74 373.96,120.01 374.79,120.28 375.62,120.54 376.45,120.79 377.28,121.05 378.11,121.3 378.94,121.55 379.77,121.79 380.6,122.03 381.43,122.27 382.26,122.5 383.09,122.73 383.92,122.96 384.75,123.18 385.58,123.4 386.41,123.62 387.24,123.84 388.07,124.05 388.9,124.26 389.73,124.46 390.56,124.67 391.39,124.87 392.22,125.07 393.05,125.26 393.88,125.45 394.71,125.64 395.54,125.83 396.37,126.02 397.2,126.2 398.03,126.38 398.86,126.55 399.68,126.73 400.51,126.9 401.34,127.07 402.17,127.24 403,127.41 403.83,127.57 404.66,127.73 405.49,127.89 406.32,128.04 407.15,128.2 407.98,128.35 408.81,128.5 409.64,128.65 410.47,128.8 411.3,128.94 412.13,129.08 412.96,129.22 413.79,129.36 414.62,129.5 415.45,129.63 416.28,129.76 417.11,129.89 417.94,130.02 418.77,130.15 419.6,130.28 420.43,130.4 421.26,130.52 422.09,130.64 422.92,130.76 423.75,130.88 424.58,130.99 425.41,131.11 426.24,131.22 427.07,131.33 427.9,131.44 428.73,131.55 429.56,131.65 430.39,131.76 431.22,131.86 432.05,131.96 432.88,132.07 433.71,132.16 434.54,132.26 435.37,132.36 436.2,132.45 437.03,132.55 437.86,132.64 438.69,132.73 439.51,132.82 440.34,132.91 441.17,133 442,133.09 442.83,133.17 443.66,133.25 444.49,133.34 445.32,133.42 446.15,133.5 446.98,133.58 447.81,133.66 448.64,133.74 449.47,133.81 450.3,133.89 451.13,133.96 451.96,134.03 452.79,134.11 453.62,134.18 454.45,134.25 455.28,134.32 456.11,134.39 456.94,134.45 457.77,134.52 458.6,134.59" stroke="#ff00ff" stroke-dasharray="8 2.3 1.6 2.3"/>
</g>
<rect x="259.45" y="9.55" width="199.15" height="129.75" fill="none" stroke="#000" stroke-width="1"/>
<g font-family='"Liberation Serif", serif' font-size="15.2" fill="#000">
<text x="279.5" y="24" letter-spacing="-0.16">identical dots, SR coupling</text>
<text x="262.85" y="134.3" letter-spacing="-0.1">(b)</text>
<text x="387.75" y="47.3" font-size="15.5" text-anchor="end">A</text>
<path d="M397.25 42.05H429.25" stroke="#ff0000" stroke-width="1.6" fill="none"/>
<text x="387.75" y="60.45" font-size="15.5" text-anchor="end">B</text>
<path d="M397.25 55.2H429.25" stroke="#0000ff" stroke-width="1.6" stroke-dasharray="5.2 2.5" fill="none"/>
<text x="387.75" y="73.6" font-size="15.5" text-anchor="end">C</text>
<path d="M397.25 68.35H429.25" stroke="#008c00" stroke-width="1.6" stroke-dasharray="2.8 3.6" fill="none"/>
<text x="387.75" y="86.75" font-size="15.5" text-anchor="end">D</text>
<path d="M397.25 81.5H429.25" stroke="#000000" stroke-width="1.6" stroke-dasharray="1.3 1.94" fill="none"/>
<text x="387.75" y="99.9" font-size="15.5" text-anchor="end">E</text>
<path d="M397.25 94.65H429.25" stroke="#ff00ff" stroke-width="1.6" stroke-dasharray="8 2.3 1.6 2.3" fill="none"/>
</g>
<path d="M51 282v-4.3M51 152.3v4.3M64.28 282v-2.2M64.28 152.3v2.2M77.55 282v-2.2M77.55 152.3v2.2M90.83 282v-2.2M90.83 152.3v2.2M104.11 282v-2.2M104.11 152.3v2.2M117.38 282v-4.3M117.38 152.3v4.3M130.66 282v-2.2M130.66 152.3v2.2M143.94 282v-2.2M143.94 152.3v2.2M157.21 282v-2.2M157.21 152.3v2.2M170.49 282v-2.2M170.49 152.3v2.2M183.77 282v-4.3M183.77 152.3v4.3M197.04 282v-2.2M197.04 152.3v2.2M210.32 282v-2.2M210.32 152.3v2.2M223.6 282v-2.2M223.6 152.3v2.2M236.87 282v-2.2M236.87 152.3v2.2M250.15 282v-4.3M250.15 152.3v4.3M51 282h4.3M250.15 282h-4.3M51 269.03h2.2M250.15 269.03h-2.2M51 256.06h4.3M250.15 256.06h-4.3M51 243.09h2.2M250.15 243.09h-2.2M51 230.12h4.3M250.15 230.12h-4.3M51 217.15h2.2M250.15 217.15h-2.2M51 204.18h4.3M250.15 204.18h-4.3M51 191.21h2.2M250.15 191.21h-2.2M51 178.24h4.3M250.15 178.24h-4.3M51 165.27h2.2M250.15 165.27h-2.2M51 152.3h4.3M250.15 152.3h-4.3" stroke="#000" stroke-width="0.9" fill="none"/>
<g clip-path="url(#c01)" fill="none" stroke-width="1.6">
<polyline points="51,152.3 51.83,155.5 52.66,158.63 53.49,161.67 54.32,164.64 55.15,167.54 55.98,170.37 56.81,173.12 57.64,175.81 58.47,178.43 59.3,180.99 60.13,183.48 60.96,185.92 61.79,188.29 62.62,190.6 63.45,192.86 64.28,195.06 65.11,197.21 65.94,199.3 66.77,201.34 67.6,203.33 68.43,205.28 69.26,207.17 70.09,209.02 70.92,210.82 71.74,212.58 72.57,214.29 73.4,215.96 74.23,217.59 75.06,219.18 75.89,220.73 76.72,222.25 77.55,223.72 78.38,225.16 79.21,226.56 80.04,227.93 80.87,229.27 81.7,230.57 82.53,231.84 83.36,233.08 84.19,234.29 85.02,235.46 85.85,236.61 86.68,237.73 87.51,238.83 88.34,239.89 89.17,240.93 90,241.95 90.83,242.94 91.66,243.9 92.49,244.84 93.32,245.76 94.15,246.65 94.98,247.53 95.81,248.38 96.64,249.21 97.47,250.02 98.3,250.81 99.13,251.58 99.96,252.33 100.79,253.06 101.62,253.77 102.45,254.47 103.28,255.15 104.11,255.81 104.94,256.46 105.77,257.09 106.6,257.71 107.43,258.31 108.26,258.89 109.09,259.46 109.92,260.02 110.75,260.56 111.57,261.09 112.4,261.61 113.23,262.11 114.06,262.6 114.89,263.08 115.72,263.55 116.55,264 117.38,264.45 118.21,264.88 119.04,265.3 119.87,265.72 120.7,266.12 121.53,266.51 122.36,266.89 123.19,267.27 124.02,267.63 124.85,267.98 125.68,268.33 126.51,268.67 127.34,269 128.17,269.32 129,269.63 129.83,269.94 130.66,270.23 131.49,270.52 132.32,270.81 133.15,271.08 133.98,271.35 134.81,271.62 135.64,271.87 136.47,272.12 137.3,272.37 138.13,272.6 138.96,272.84 139.79,273.06 140.62,273.28 141.45,273.5 142.28,273.71 143.11,273.91 143.94,274.11 144.77,274.31 145.6,274.5 146.43,274.68 147.26,274.86 148.09,275.04 148.92,275.21 149.75,275.38 150.58,275.54 151.4,275.7 152.23,275.86 153.06,276.01 153.89,276.16 154.72,276.3 155.55,276.44 156.38,276.58 157.21,276.71 158.04,276.84 158.87,276.97 159.7,277.1 160.53,277.22 161.36,277.33 162.19,277.45 163.02,277.56 163.85,277.67 164.68,277.78 165.51,277.88 166.34,277.98 167.17,278.08 168,278.18 168.83,278.27 169.66,278.37 170.49,278.46 171.32,278.54 172.15,278.63 172.98,278.71 173.81,278.79 174.64,278.87 175.47,278.95 176.3,279.03 177.13,279.1 177.96,279.17 178.79,279.24 179.62,279.31 180.45,279.37 181.28,279.44 182.11,279.5 182.94,279.56 183.77,279.62 184.6,279.68 185.43,279.74 186.26,279.8 187.09,279.85 187.92,279.9 188.75,279.96 189.58,280.01 190.41,280.06 191.23,280.1 192.06,280.15 192.89,280.2 193.72,280.24 194.55,280.28 195.38,280.33 196.21,280.37 197.04,280.41 197.87,280.45 198.7,280.49 199.53,280.52 200.36,280.56 201.19,280.59 202.02,280.63 202.85,280.66 203.68,280.7 204.51,280.73 205.34,280.76 206.17,280.79 207,280.82 207.83,280.85 208.66,280.88 209.49,280.91 210.32,280.93 211.15,280.96 211.98,280.98 212.81,281.01 213.64,281.03 214.47,281.06 215.3,281.08 216.13,281.1 216.96,281.13 217.79,281.15 218.62,281.17 219.45,281.19 220.28,281.21 221.11,281.23 221.94,281.25 222.77,281.27 223.6,281.28 224.43,281.3 225.26,281.32 226.09,281.34 226.92,281.35 227.75,281.37 228.58,281.38 229.41,281.4 230.24,281.41 231.06,281.43 231.89,281.44 232.72,281.46 233.55,281.47 234.38,281.48 235.21,281.5 236.04,281.51 236.87,281.52 237.7,281.53 238.53,281.54 239.36,281.56 240.19,281.57 241.02,281.58 241.85,281.59 242.68,281.6 243.51,281.61 244.34,281.62 245.17,281.63 246,281.64 246.83,281.64 247.66,281.65 248.49,281.66 249.32,281.67 250.15,281.68" stroke="#ff0000"/>
<polyline points="51,152.3 51.83,153.87 52.66,155.42 53.49,157 54.32,158.7 55.15,160.21 55.98,161.91 56.81,163.66 57.64,165.09 58.47,166.6 59.3,168.05 60.13,169.64 60.96,171.01 61.79,172.43 62.62,174.35 63.45,175.55 64.28,176.84 65.11,177.25 65.94,178.34 66.77,179.62 67.6,180.64 68.43,181.62 69.26,182.57 70.09,184.07 70.92,185.18 71.74,185.88 72.57,186.45 73.4,187.93 74.23,189.7 75.06,190.83 75.89,192.21 76.72,193.14 77.55,194.13 78.38,195.18 79.21,196.23 80.04,197.75 80.87,198.71 81.7,200.66 82.53,201.64 83.36,202.82 84.19,202.86 85.02,203.87 85.85,204.7 86.68,205.65 87.51,206.75 88.34,208.35 89.17,208.99 90,210.04 90.83,210.77 91.66,212.34 92.49,213.02 93.32,213.37 94.15,213.57 94.98,214.87 95.81,216.45 96.64,217.42 97.47,217.74 98.3,218.35 99.13,219.18 99.96,220.39 100.79,221.28 101.62,221.71 102.45,222.6 103.28,223.86 104.11,224.76 104.94,224.98 105.77,226.38 106.6,227.06 107.43,227.98 108.26,228.58 109.09,229.06 109.92,229.53 110.75,229.73 111.57,230.27 112.4,230.69 113.23,231.29 114.06,232.11 114.89,232.36 115.72,233.96 116.55,234.68 117.38,235.07 118.21,236.18 119.04,236.51 119.87,237.16 120.7,238.38 121.53,238.87 122.36,239.68 123.19,240.31 124.02,240.71 124.85,240.61 125.68,240.94 126.51,241.21 127.34,241.61 128.17,242.45 129,242.53 129.83,243.13 130.66,243.37 131.49,244.08 132.32,244.82 133.15,245.25 133.98,245.36 134.81,245.52 135.64,245.92 136.47,246.45 137.3,247.34 138.13,247.52 138.96,248.05 139.79,248.37 140.62,249.08 141.45,249.6 142.28,250.22 143.11,250.65 143.94,250.84 144.77,251.18 145.6,251.49 146.43,251.73 147.26,251.76 148.09,252.57 148.92,252.9 149.75,253.66 150.58,253.9 151.4,253.67 152.23,254.01 153.06,254.39 153.89,254.75 154.72,254.91 155.55,255.23 156.38,255.76 157.21,255.84 158.04,256 158.87,256.44 159.7,256.83 160.53,257.17 161.36,257.41 162.19,257.78 163.02,258 163.85,258.34 164.68,258.96 165.51,259.28 166.34,259.44 167.17,259.48 168,259.73 168.83,260.1 169.66,260.32 170.49,260.35 171.32,260.42 172.15,260.9 172.98,261.23 173.81,261.83 174.64,262.3 175.47,262.4 176.3,262.62 177.13,262.73 177.96,262.93 178.79,263.06 179.62,263.12 180.45,263.46 181.28,263.94 182.11,264.03 182.94,263.88 183.77,264.06 184.6,264.6 185.43,264.8 186.26,264.78 187.09,265.3 187.92,265.3 188.75,265.56 189.58,265.61 190.41,265.57 191.23,265.85 192.06,265.73 192.89,266.13 193.72,266.48 194.55,266.46 195.38,266.8 196.21,266.63 197.04,266.88 197.87,267.36 198.7,267.66 199.53,267.93 200.36,268.18 201.19,268.41 202.02,268.5 202.85,269.06 203.68,269.39 204.51,269.48 205.34,269.4 206.17,269.89 207,270.04 207.83,270.44 208.66,270.65 209.49,270.63 210.32,270.79 211.15,270.62 211.98,270.85 212.81,271.01 213.64,270.93 214.47,270.85 215.3,271.06 216.13,271.1 216.96,271.45 217.79,271.26 218.62,271.41 219.45,271.66 220.28,271.73 221.11,271.71 221.94,271.51 222.77,271.7 223.6,272 224.43,272.13 225.26,272.38 226.09,272.69 226.92,272.76 227.75,273.01 228.58,272.91 229.41,273.06 230.24,273.59 231.06,273.67 231.89,273.81 232.72,273.75 233.55,273.72 234.38,273.78 235.21,273.84 236.04,273.98 236.87,274 237.7,274.36 238.53,274.4 239.36,274.6 240.19,274.78 241.02,274.82 241.85,274.71 242.68,274.96 243.51,274.8 244.34,274.91 245.17,274.92 246,274.98 246.83,275.08 247.66,275.07 248.49,274.99 249.32,274.99 250.15,275.05" stroke="#0000ff" stroke-dasharray="5.2 2.5"/>
<polyline points="51,152.3 51.83,153.83 52.66,155.38 53.49,156.93 54.32,158.64 55.15,160.2 55.98,161.9 56.81,163.8 57.64,165.25 58.47,166.66 59.3,167.99 60.13,169.49 60.96,170.84 61.79,172.36 62.62,174.13 63.45,175.17 64.28,176.22 65.11,176.65 65.94,177.62 66.77,178.94 67.6,179.67 68.43,180.91 69.26,181.71 70.09,183.45 70.92,184.84 71.74,185.93 72.57,187.11 73.4,188.21 74.23,190.07 75.06,191.16 75.89,192.07 76.72,192.81 77.55,194.09 78.38,195.06 79.21,196.21 80.04,197.38 80.87,198.08 81.7,199.56 82.53,200.9 83.36,202.45 84.19,202.93 85.02,204.15 85.85,204.98 86.68,205.87 87.51,206.98 88.34,208.68 89.17,209.15 90,210.16 90.83,210.65 91.66,212.13 92.49,213.23 93.32,213.63 94.15,214.11 94.98,215.59 95.81,216.97 96.64,217.89 97.47,218.19 98.3,218.87 99.13,219.57 99.96,220.61 100.79,220.95 101.62,221.34 102.45,222.3 103.28,223.59 104.11,224.59 104.94,224.91 105.77,226.13 106.6,226.88 107.43,227.79 108.26,228.27 109.09,228.81 109.92,229.51 110.75,229.42 111.57,230.25 112.4,230.51 113.23,231.39 114.06,232.31 114.89,232.71 115.72,234.45 116.55,234.94 117.38,235.32 118.21,236.21 119.04,236.5 119.87,237.15 120.7,238.32 121.53,238.75 122.36,239.41 123.19,239.81 124.02,240.36 124.85,240.46 125.68,241 126.51,241.46 127.34,241.89 128.17,242.99 129,242.95 129.83,243.64 130.66,243.9 131.49,244.65 132.32,245.46 133.15,246.1 133.98,245.78 134.81,246.02 135.64,246.59 136.47,247.15 137.3,247.93 138.13,248.36 138.96,248.72 139.79,248.89 140.62,249.54 141.45,249.95 142.28,250.54 143.11,250.96 143.94,251.11 144.77,251.47 145.6,251.57 146.43,251.66 147.26,251.77 148.09,252.55 148.92,252.77 149.75,253.55 150.58,253.87 151.4,253.67 152.23,254.06 153.06,254.52 153.89,254.89 154.72,255.24 155.55,255.58 156.38,256.08 157.21,256.21 158.04,256.33 158.87,256.94 159.7,257.24 160.53,257.58 161.36,257.66 162.19,257.83 163.02,257.92 163.85,258.33 164.68,258.93 165.51,259.11 166.34,259.27 167.17,259.38 168,259.85 168.83,260.19 169.66,260.33 170.49,260.4 171.32,260.38 172.15,260.96 172.98,261.3 173.81,261.95 174.64,262.47 175.47,262.65 176.3,262.81 177.13,262.84 177.96,262.98 178.79,263.08 179.62,263.05 180.45,263.44 181.28,263.83 182.11,263.99 182.94,263.8 183.77,264.01 184.6,264.54 185.43,264.72 186.26,264.73 187.09,265.24 187.92,265.36 188.75,265.78 189.58,265.77 190.41,265.88 191.23,266.01 192.06,265.69 192.89,266.14 193.72,266.64 194.55,266.51 195.38,266.97 196.21,266.85 197.04,267.23 197.87,267.76 198.7,268.02 199.53,268.12 200.36,268.21 201.19,268.39 202.02,268.43 202.85,269.05 203.68,269.35 204.51,269.49 205.34,269.29 206.17,269.73 207,269.87 207.83,270.22 208.66,270.37 209.49,270.41 210.32,270.57 211.15,270.48 211.98,270.72 212.81,270.85 213.64,270.84 214.47,270.82 215.3,271.08 216.13,271.12 216.96,271.52 217.79,271.35 218.62,271.59 219.45,271.66 220.28,271.73 221.11,271.87 221.94,271.74 222.77,272.01 223.6,272.3 224.43,272.41 225.26,272.66 226.09,273.09 226.92,272.97 227.75,273.25 228.58,273.19 229.41,273.45 230.24,273.96 231.06,273.97 231.89,274.08 232.72,273.9 233.55,273.96 234.38,274.03 235.21,274.1 236.04,274.09 236.87,274.22 237.7,274.41 238.53,274.44 239.36,274.64 240.19,274.89 241.02,274.84 241.85,274.9 242.68,275.16 243.51,274.97 244.34,275.12 245.17,275.16 246,275.18 246.83,275.28 247.66,275.36 248.49,275.25 249.32,275.21 250.15,275.32" stroke="#008c00" stroke-dasharray="2.8 3.6"/>
<polyline points="51,152.3 51.83,153.87 52.66,155.4 53.49,157.01 54.32,158.56 55.15,160.1 55.98,161.87 56.81,163.57 57.64,165.09 58.47,166.47 59.3,167.48 60.13,169.04 60.96,170.51 61.79,171.65 62.62,173.78 63.45,175.19 64.28,176.32 65.11,176.47 65.94,177.67 66.77,179.03 67.6,179.6 68.43,181.21 69.26,182.21 70.09,183.98 70.92,185.4 71.74,186.25 72.57,186.98 73.4,188.04 74.23,189.65 75.06,190.84 75.89,192.24 76.72,193.15 77.55,194.44 78.38,195.24 79.21,196.59 80.04,197.45 80.87,198.18 81.7,200.13 82.53,200.98 83.36,202.69 84.19,202.9 85.02,204.03 85.85,204.61 86.68,205.5 87.51,206.65 88.34,208.13 89.17,208.87 90,210.02 90.83,210.66 91.66,212.22 92.49,213.13 93.32,213.74 94.15,213.98 94.98,215.4 95.81,216.92 96.64,217.61 97.47,218.26 98.3,218.8 99.13,219.39 99.96,220.52 100.79,221.47 101.62,221.68 102.45,222.71 103.28,223.9 104.11,224.98 104.94,225.14 105.77,226.29 106.6,226.93 107.43,227.86 108.26,228.5 109.09,229.04 109.92,229.52 110.75,229.71 111.57,230.28 112.4,230.62 113.23,231.49 114.06,232.26 114.89,232.89 115.72,234.5 116.55,235.14 117.38,235.41 118.21,236.33 119.04,236.65 119.87,237.38 120.7,238.71 121.53,239.05 122.36,239.75 123.19,240.22 124.02,240.67 124.85,240.82 125.68,241.37 126.51,241.79 127.34,242.24 128.17,243.41 129,243.39 129.83,243.93 130.66,244.51 131.49,245.32 132.32,245.76 133.15,246.15 133.98,246.27 134.81,246.39 135.64,246.98 136.47,247.59 137.3,248.13 138.13,248.45 138.96,248.95 139.79,249.22 140.62,250 141.45,250.33 142.28,250.87 143.11,251.26 143.94,251.24 144.77,251.57 145.6,251.82 146.43,251.84 147.26,251.79 148.09,252.48 148.92,252.78 149.75,253.65 150.58,253.94 151.4,253.52 152.23,253.93 153.06,254.31 153.89,254.73 154.72,255.06 155.55,255.27 156.38,255.88 157.21,256 158.04,256.1 158.87,256.47 159.7,256.78 160.53,257 161.36,257.18 162.19,257.4 163.02,257.72 163.85,258.16 164.68,258.89 165.51,259.38 166.34,259.31 167.17,259.21 168,259.58 168.83,260.04 169.66,260.25 170.49,260.19 171.32,260.32 172.15,260.9 172.98,261.25 173.81,261.78 174.64,262.19 175.47,262.39 176.3,262.63 177.13,262.65 177.96,262.75 178.79,262.84 179.62,262.76 180.45,263.26 181.28,263.8 182.11,264.1 182.94,263.83 183.77,263.98 184.6,264.44 185.43,264.63 186.26,264.68 187.09,265.21 187.92,265.4 188.75,265.78 189.58,265.76 190.41,265.93 191.23,266.11 192.06,266.06 192.89,266.52 193.72,266.85 194.55,266.68 195.38,267.03 196.21,266.85 197.04,267.14 197.87,267.55 198.7,267.71 199.53,268 200.36,268.21 201.19,268.47 202.02,268.54 202.85,269.2 203.68,269.41 204.51,269.66 205.34,269.54 206.17,270.12 207,270.22 207.83,270.5 208.66,270.64 209.49,270.62 210.32,270.65 211.15,270.58 211.98,270.86 212.81,270.97 213.64,270.91 214.47,270.94 215.3,271.14 216.13,271.16 216.96,271.34 217.79,271.33 218.62,271.44 219.45,271.62 220.28,271.72 221.11,271.83 221.94,271.7 222.77,271.99 223.6,272.21 224.43,272.4 225.26,272.69 226.09,273.04 226.92,273.04 227.75,273.34 228.58,273.21 229.41,273.43 230.24,273.89 231.06,273.74 231.89,273.82 232.72,273.69 233.55,273.66 234.38,273.73 235.21,273.82 236.04,274.05 236.87,274.22 237.7,274.46 238.53,274.5 239.36,274.77 240.19,274.91 241.02,274.87 241.85,274.79 242.68,275.01 243.51,274.95 244.34,275.16 245.17,275.27 246,275.32 246.83,275.32 247.66,275.41 248.49,275.22 249.32,275.26 250.15,275.34" stroke="#000000" stroke-dasharray="1.3 1.94"/>
<polyline points="51,152.3 51.83,154.07 52.66,155.83 53.49,157.52 54.32,159.16 55.15,160.94 55.98,162.77 56.81,164.49 57.64,166.22 58.47,168.04 59.3,169.86 60.13,171.21 60.96,172.89 61.79,174.54 62.62,176.03 63.45,178.06 64.28,179.09 65.11,180.38 65.94,181.91 66.77,183.5 67.6,185.01 68.43,185.75 69.26,187.21 70.09,188.4 70.92,189.68 71.74,190.41 72.57,191.79 73.4,192.97 74.23,194.36 75.06,195.18 75.89,196.53 76.72,197.49 77.55,199.18 78.38,200.06 79.21,201.33 80.04,202.22 80.87,202.8 81.7,204.02 82.53,205.02 83.36,206.41 84.19,207.68 85.02,209.13 85.85,210.44 86.68,210.89 87.51,211.57 88.34,212.86 89.17,213.75 90,214.62 90.83,215.67 91.66,216.39 92.49,217.89 93.32,218.62 94.15,220.02 94.98,220.83 95.81,222.1 96.64,222.3 97.47,222.73 98.3,223.66 99.13,224.59 99.96,225.36 100.79,226.07 101.62,226.89 102.45,227.59 103.28,228.21 104.11,228.74 104.94,229.55 105.77,230.18 106.6,230.81 107.43,231.64 108.26,232.39 109.09,232.85 109.92,233.5 110.75,234.23 111.57,235.07 112.4,235.77 113.23,236.75 114.06,237.26 114.89,237.57 115.72,238.47 116.55,239.13 117.38,239.74 118.21,240.28 119.04,240.53 119.87,241.42 120.7,241.66 121.53,242.38 122.36,242.81 123.19,243.31 124.02,244.04 124.85,244.65 125.68,245.14 126.51,245.41 127.34,245.8 128.17,246.16 129,246.55 129.83,247.01 130.66,247.35 131.49,247.47 132.32,248.11 133.15,248.47 133.98,248.87 134.81,249.33 135.64,249.68 136.47,250.08 137.3,250.36 138.13,250.73 138.96,251.11 139.79,251.56 140.62,251.93 141.45,252.37 142.28,252.78 143.11,253.44 143.94,253.88 144.77,254.25 145.6,254.75 146.43,255.03 147.26,255.3 148.09,255.66 148.92,256.15 149.75,256.46 150.58,256.97 151.4,257.36 152.23,257.65 153.06,257.87 153.89,258.2 154.72,258.53 155.55,259.03 156.38,259.67 157.21,259.8 158.04,260.19 158.87,260.53 159.7,260.86 160.53,261.17 161.36,261.5 162.19,261.87 163.02,262.1 163.85,262.22 164.68,262.42 165.51,262.66 166.34,262.94 167.17,263.33 168,263.58 168.83,263.85 169.66,264.06 170.49,264.22 171.32,264.42 172.15,264.71 172.98,265.04 173.81,265.17 174.64,265.43 175.47,265.48 176.3,265.79 177.13,266 177.96,266.23 178.79,266.27 179.62,266.44 180.45,266.78 181.28,267.04 182.11,266.87 182.94,267.08 183.77,267.42 184.6,267.51 185.43,267.67 186.26,267.81 187.09,268.24 187.92,268.6 188.75,268.84 189.58,269.17 190.41,269.35 191.23,269.49 192.06,269.65 192.89,269.95 193.72,269.99 194.55,270.1 195.38,270.35 196.21,270.5 197.04,270.64 197.87,270.74 198.7,270.88 199.53,270.88 200.36,271.2 201.19,271.4 202.02,271.64 202.85,271.64 203.68,271.75 204.51,271.74 205.34,271.81 206.17,271.92 207,272.16 207.83,272.24 208.66,272.41 209.49,272.53 210.32,272.77 211.15,272.84 211.98,273.07 212.81,273.08 213.64,273.22 214.47,273.43 215.3,273.71 216.13,273.85 216.96,274.04 217.79,274.09 218.62,274.13 219.45,274.21 220.28,274.36 221.11,274.49 221.94,274.5 222.77,274.54 223.6,274.5 224.43,274.77 225.26,274.84 226.09,275.02 226.92,275.2 227.75,275.14 228.58,275.22 229.41,275.3 230.24,275.3 231.06,275.4 231.89,275.55 232.72,275.6 233.55,275.56 234.38,275.59 235.21,275.61 236.04,275.68 236.87,275.76 237.7,275.87 238.53,275.99 239.36,276.14 240.19,276.21 241.02,276.26 241.85,276.25 242.68,276.32 243.51,276.46 244.34,276.7 245.17,276.76 246,276.85 246.83,276.99 247.66,277.11 248.49,277.26 249.32,277.38 250.15,277.45" stroke="#ff00ff" stroke-dasharray="8 2.3 1.6 2.3"/>
</g>
<rect x="51" y="152.3" width="199.15" height="129.7" fill="none" stroke="#000" stroke-width="1"/>
<g font-family='"Liberation Serif", serif' font-size="15.2" fill="#000">
<text x="61.2" y="166.4" letter-spacing="-0.19">non-identical dots, LR coupling</text>
<text x="54.4" y="276.7" letter-spacing="-0.1">(c)</text>
<text x="179.3" y="189.7" font-size="15.5" text-anchor="end">A</text>
<path d="M188.8 184.45H220.8" stroke="#ff0000" stroke-width="1.6" fill="none"/>
<text x="179.3" y="202.85" font-size="15.5" text-anchor="end">B</text>
<path d="M188.8 197.6H220.8" stroke="#0000ff" stroke-width="1.6" stroke-dasharray="5.2 2.5" fill="none"/>
<text x="179.3" y="216" font-size="15.5" text-anchor="end">C</text>
<path d="M188.8 210.75H220.8" stroke="#008c00" stroke-width="1.6" stroke-dasharray="2.8 3.6" fill="none"/>
<text x="179.3" y="229.15" font-size="15.5" text-anchor="end">D</text>
<path d="M188.8 223.9H220.8" stroke="#000000" stroke-width="1.6" stroke-dasharray="1.3 1.94" fill="none"/>
<text x="179.3" y="242.3" font-size="15.5" text-anchor="end">E</text>
<path d="M188.8 237.05H220.8" stroke="#ff00ff" stroke-width="1.6" stroke-dasharray="8 2.3 1.6 2.3" fill="none"/>
<text x="41.2" y="287.3" font-size="15.6" text-anchor="end">0</text>
<text x="40.3" y="261.36" font-size="15.6" text-anchor="end" letter-spacing="-0.45">0.2</text>
<text x="40.3" y="235.42" font-size="15.6" text-anchor="end" letter-spacing="-0.45">0.4</text>
<text x="40.3" y="209.48" font-size="15.6" text-anchor="end" letter-spacing="-0.45">0.6</text>
<text x="40.3" y="183.54" font-size="15.6" text-anchor="end" letter-spacing="-0.45">0.8</text>
<text x="41.2" y="157.6" font-size="15.6" text-anchor="end">1</text>
<text transform="translate(11.1 217.5) rotate(-90)" font-size="15.45" text-anchor="middle">Exciton occupation</text>
<text x="51" y="302.8" font-size="15.6" text-anchor="middle">0</text>
<text x="117.38" y="302.8" font-size="15.6" text-anchor="middle">1</text>
<text x="183.77" y="302.8" font-size="15.6" text-anchor="middle">2</text>
<text x="250.15" y="302.8" font-size="15.6" text-anchor="middle">3</text>
<text x="150.57" y="320.5" text-anchor="middle"><tspan font-style="italic">t</tspan> (ns)</text>
</g>
<path d="M259.45 282v-4.3M259.45 152.3v4.3M272.73 282v-2.2M272.73 152.3v2.2M286 282v-2.2M286 152.3v2.2M299.28 282v-2.2M299.28 152.3v2.2M312.56 282v-2.2M312.56 152.3v2.2M325.83 282v-4.3M325.83 152.3v4.3M339.11 282v-2.2M339.11 152.3v2.2M352.39 282v-2.2M352.39 152.3v2.2M365.66 282v-2.2M365.66 152.3v2.2M378.94 282v-2.2M378.94 152.3v2.2M392.22 282v-4.3M392.22 152.3v4.3M405.49 282v-2.2M405.49 152.3v2.2M418.77 282v-2.2M418.77 152.3v2.2M432.05 282v-2.2M432.05 152.3v2.2M445.32 282v-2.2M445.32 152.3v2.2M458.6 282v-4.3M458.6 152.3v4.3M259.45 282h4.3M458.6 282h-4.3M259.45 269.03h2.2M458.6 269.03h-2.2M259.45 256.06h4.3M458.6 256.06h-4.3M259.45 243.09h2.2M458.6 243.09h-2.2M259.45 230.12h4.3M458.6 230.12h-4.3M259.45 217.15h2.2M458.6 217.15h-2.2M259.45 204.18h4.3M458.6 204.18h-4.3M259.45 191.21h2.2M458.6 191.21h-2.2M259.45 178.24h4.3M458.6 178.24h-4.3M259.45 165.27h2.2M458.6 165.27h-2.2M259.45 152.3h4.3M458.6 152.3h-4.3" stroke="#000" stroke-width="0.9" fill="none"/>
<g clip-path="url(#c11)" fill="none" stroke-width="1.6">
<polyline points="259.45,152.3 260.28,155.5 261.11,158.63 261.94,161.67 262.77,164.64 263.6,167.54 264.43,170.37 265.26,173.12 266.09,175.81 266.92,178.43 267.75,180.99 268.58,183.48 269.41,185.92 270.24,188.29 271.07,190.6 271.9,192.86 272.73,195.06 273.56,197.21 274.39,199.3 275.22,201.34 276.05,203.33 276.88,205.28 277.71,207.17 278.54,209.02 279.37,210.82 280.19,212.58 281.02,214.29 281.85,215.96 282.68,217.59 283.51,219.18 284.34,220.73 285.17,222.25 286,223.72 286.83,225.16 287.66,226.56 288.49,227.93 289.32,229.27 290.15,230.57 290.98,231.84 291.81,233.08 292.64,234.29 293.47,235.46 294.3,236.61 295.13,237.73 295.96,238.83 296.79,239.89 297.62,240.93 298.45,241.95 299.28,242.94 300.11,243.9 300.94,244.84 301.77,245.76 302.6,246.65 303.43,247.53 304.26,248.38 305.09,249.21 305.92,250.02 306.75,250.81 307.58,251.58 308.41,252.33 309.24,253.06 310.07,253.77 310.9,254.47 311.73,255.15 312.56,255.81 313.39,256.46 314.22,257.09 315.05,257.71 315.88,258.31 316.71,258.89 317.54,259.46 318.37,260.02 319.19,260.56 320.02,261.09 320.85,261.61 321.68,262.11 322.51,262.6 323.34,263.08 324.17,263.55 325,264 325.83,264.45 326.66,264.88 327.49,265.3 328.32,265.72 329.15,266.12 329.98,266.51 330.81,266.89 331.64,267.27 332.47,267.63 333.3,267.98 334.13,268.33 334.96,268.67 335.79,269 336.62,269.32 337.45,269.63 338.28,269.94 339.11,270.23 339.94,270.52 340.77,270.81 341.6,271.08 342.43,271.35 343.26,271.62 344.09,271.87 344.92,272.12 345.75,272.37 346.58,272.6 347.41,272.84 348.24,273.06 349.07,273.28 349.9,273.5 350.73,273.71 351.56,273.91 352.39,274.11 353.22,274.31 354.05,274.5 354.88,274.68 355.71,274.86 356.54,275.04 357.37,275.21 358.2,275.38 359.02,275.54 359.85,275.7 360.68,275.86 361.51,276.01 362.34,276.16 363.17,276.3 364,276.44 364.83,276.58 365.66,276.71 366.49,276.84 367.32,276.97 368.15,277.1 368.98,277.22 369.81,277.33 370.64,277.45 371.47,277.56 372.3,277.67 373.13,277.78 373.96,277.88 374.79,277.98 375.62,278.08 376.45,278.18 377.28,278.27 378.11,278.37 378.94,278.46 379.77,278.54 380.6,278.63 381.43,278.71 382.26,278.79 383.09,278.87 383.92,278.95 384.75,279.03 385.58,279.1 386.41,279.17 387.24,279.24 388.07,279.31 388.9,279.37 389.73,279.44 390.56,279.5 391.39,279.56 392.22,279.62 393.05,279.68 393.88,279.74 394.71,279.8 395.54,279.85 396.37,279.9 397.2,279.96 398.03,280.01 398.86,280.06 399.68,280.1 400.51,280.15 401.34,280.2 402.17,280.24 403,280.28 403.83,280.33 404.66,280.37 405.49,280.41 406.32,280.45 407.15,280.49 407.98,280.52 408.81,280.56 409.64,280.59 410.47,280.63 411.3,280.66 412.13,280.7 412.96,280.73 413.79,280.76 414.62,280.79 415.45,280.82 416.28,280.85 417.11,280.88 417.94,280.91 418.77,280.93 419.6,280.96 420.43,280.98 421.26,281.01 422.09,281.03 422.92,281.06 423.75,281.08 424.58,281.1 425.41,281.13 426.24,281.15 427.07,281.17 427.9,281.19 428.73,281.21 429.56,281.23 430.39,281.25 431.22,281.27 432.05,281.28 432.88,281.3 433.71,281.32 434.54,281.34 435.37,281.35 436.2,281.37 437.03,281.38 437.86,281.4 438.69,281.41 439.51,281.43 440.34,281.44 441.17,281.46 442,281.47 442.83,281.48 443.66,281.5 444.49,281.51 445.32,281.52 446.15,281.53 446.98,281.54 447.81,281.56 448.64,281.57 449.47,281.58 450.3,281.59 451.13,281.6 451.96,281.61 452.79,281.62 453.62,281.63 454.45,281.64 455.28,281.64 456.11,281.65 456.94,281.66 457.77,281.67 458.6,281.68" stroke="#ff0000"/>
<polyline points="259.45,152.3 260.28,153.9 261.11,155.49 261.94,157 262.77,158.57 263.6,160.12 264.43,161.33 265.26,162.85 266.09,164.3 266.92,165.67 267.75,166.82 268.58,168.38 269.41,169.59 270.24,171.31 271.07,172.75 271.9,174.32 272.73,176.08 273.56,178.03 274.39,180.2 275.22,181.62 276.05,182.57 276.88,183.76 277.71,184.82 278.54,186.97 279.37,188.06 280.19,189.15 281.02,189.67 281.85,191.04 282.68,192.02 283.51,193.76 284.34,195.17 285.17,196.93 286,198.46 286.83,198.65 287.66,200.44 288.49,200.93 289.32,201.72 290.15,202.72 290.98,203.27 291.81,203.91 292.64,204.2 293.47,205.19 294.3,206.34 295.13,207.3 295.96,208.67 296.79,209.53 297.62,210.59 298.45,211.02 299.28,212.48 300.11,213.45 300.94,214.55 301.77,216.14 302.6,216.18 303.43,217.74 304.26,218.46 305.09,219.3 305.92,219.46 306.75,220.87 307.58,221.02 308.41,221.73 309.24,222.27 310.07,223.16 310.9,223.61 311.73,224.52 312.56,225.06 313.39,225.36 314.22,225.12 315.05,226.92 315.88,227.07 316.71,227.33 317.54,228.12 318.37,228.59 319.19,229.28 320.02,229.32 320.85,230.06 321.68,230.63 322.51,231.34 323.34,232 324.17,232.75 325,233.75 325.83,233.84 326.66,234.89 327.49,236.46 328.32,236.92 329.15,237.49 329.98,238.09 330.81,238.61 331.64,239.17 332.47,239.7 333.3,239.85 334.13,240.57 334.96,241.09 335.79,241.28 336.62,241.45 337.45,242.16 338.28,242.2 339.11,242.42 339.94,243.39 340.77,244.04 341.6,244.25 342.43,245.1 343.26,245.82 344.09,246.56 344.92,247.24 345.75,247.07 346.58,247.72 347.41,248.5 348.24,248.71 349.07,249.07 349.9,249.31 350.73,249.3 351.56,249.83 352.39,250.33 353.22,250.66 354.05,251.41 354.88,251.73 355.71,251.67 356.54,252.03 357.37,252.48 358.2,252.81 359.02,253.32 359.85,253.85 360.68,254.28 361.51,254.78 362.34,255.24 363.17,255.89 364,255.99 364.83,256.12 365.66,256.86 366.49,257.44 367.32,257.71 368.15,257.62 368.98,258.06 369.81,258.38 370.64,258.77 371.47,258.76 372.3,259.33 373.13,259.19 373.96,259.57 374.79,259.56 375.62,259.72 376.45,260 377.28,260.57 378.11,260.82 378.94,261.08 379.77,261.28 380.6,261.38 381.43,261.76 382.26,261.88 383.09,261.9 383.92,262.09 384.75,262.34 385.58,262.73 386.41,262.84 387.24,262.97 388.07,263.34 388.9,263.53 389.73,263.95 390.56,264.36 391.39,264.31 392.22,264.34 393.05,264.75 393.88,264.85 394.71,264.94 395.54,265.3 396.37,265.52 397.2,265.56 398.03,266.17 398.86,266.17 399.68,266.23 400.51,266.27 401.34,266.84 402.17,266.81 403,267.37 403.83,267.53 404.66,267.57 405.49,267.71 406.32,268.11 407.15,268.4 407.98,268.36 408.81,268.71 409.64,268.85 410.47,268.85 411.3,268.94 412.13,268.82 412.96,269.07 413.79,268.85 414.62,269.36 415.45,269.94 416.28,269.85 417.11,269.96 417.94,270.26 418.77,270.4 419.6,270.86 420.43,270.98 421.26,271.27 422.09,271.28 422.92,271.18 423.75,271.16 424.58,271.19 425.41,271.48 426.24,271.7 427.07,271.79 427.9,272.01 428.73,271.94 429.56,272.28 430.39,272.15 431.22,272.33 432.05,272.36 432.88,272.65 433.71,272.57 434.54,272.71 435.37,272.74 436.2,272.77 437.03,272.94 437.86,273.07 438.69,273.46 439.51,273.39 440.34,273.53 441.17,273.67 442,273.79 442.83,273.59 443.66,273.97 444.49,274.15 445.32,274.3 446.15,274.37 446.98,274.66 447.81,274.81 448.64,274.78 449.47,274.69 450.3,274.51 451.13,274.8 451.96,274.9 452.79,275.06 453.62,275.25 454.45,275.5 455.28,275.43 456.11,275.5 456.94,275.65 457.77,275.62 458.6,275.78" stroke="#0000ff" stroke-dasharray="5.2 2.5"/>
<polyline points="259.45,152.3 260.28,153.88 261.11,155.5 261.94,157.03 262.77,158.66 263.6,160.2 264.43,161.38 265.26,162.82 266.09,164.27 266.92,165.5 267.75,166.61 268.58,168 269.41,169.25 270.24,171 271.07,172.42 271.9,174.12 272.73,175.94 273.56,177.99 274.39,179.94 275.22,181.09 276.05,182.67 276.88,183.77 277.71,184.81 278.54,186.29 279.37,187.33 280.19,188.24 281.02,188.87 281.85,190.57 282.68,191.68 283.51,193.86 284.34,195.11 285.17,197.08 286,198.22 286.83,198.62 287.66,200.13 288.49,200.5 289.32,200.98 290.15,201.92 290.98,202.77 291.81,203.31 292.64,203.74 293.47,204.56 294.3,205.7 295.13,206.7 295.96,208.26 296.79,208.8 297.62,210.01 298.45,210.57 299.28,212 300.11,212.96 300.94,214.26 301.77,215.76 302.6,215.9 303.43,217.41 304.26,218.01 305.09,218.9 305.92,218.71 306.75,219.96 307.58,220.39 308.41,221.11 309.24,221.8 310.07,222.81 310.9,223.15 311.73,224.11 312.56,224.96 313.39,225.49 314.22,225.48 315.05,226.97 315.88,227.29 316.71,227.49 317.54,228.42 318.37,228.9 319.19,229.49 320.02,229.63 320.85,230.25 321.68,231.23 322.51,231.85 323.34,232.56 324.17,233.49 325,234.23 325.83,234.14 326.66,235.52 327.49,237.1 328.32,237.44 329.15,237.73 329.98,238 330.81,238.67 331.64,239.08 332.47,239.38 333.3,239.56 334.13,240.13 334.96,240.67 335.79,240.44 336.62,240.91 337.45,241.75 338.28,241.57 339.11,241.93 339.94,242.8 340.77,243.76 341.6,244.08 342.43,245.01 343.26,245.85 344.09,246.75 344.92,247.19 345.75,247.2 346.58,247.86 347.41,248.72 348.24,248.86 349.07,249.15 349.9,249.39 350.73,249.5 351.56,249.92 352.39,250.31 353.22,250.67 354.05,251.38 354.88,251.64 355.71,251.77 356.54,251.9 357.37,252.31 358.2,252.81 359.02,253.43 359.85,254.04 360.68,254.44 361.51,254.88 362.34,255.34 363.17,255.91 364,256.15 364.83,256.36 365.66,256.84 366.49,257.64 367.32,257.83 368.15,257.48 368.98,258.04 369.81,258.35 370.64,258.72 371.47,258.8 372.3,259.31 373.13,259.29 373.96,259.72 374.79,259.57 375.62,259.8 376.45,260.13 377.28,260.73 378.11,261.07 378.94,261.48 379.77,261.58 380.6,261.82 381.43,262.11 382.26,262.17 383.09,262.16 383.92,262.47 384.75,262.77 385.58,263.12 386.41,263.11 387.24,263.16 388.07,263.56 388.9,263.61 389.73,263.93 390.56,264.31 391.39,264.4 392.22,264.49 393.05,264.87 393.88,265.09 394.71,265.23 395.54,265.64 396.37,265.85 397.2,265.92 398.03,266.49 398.86,266.65 399.68,266.52 400.51,266.66 401.34,267.02 402.17,267.03 403,267.48 403.83,267.55 404.66,267.6 405.49,267.7 406.32,267.85 407.15,268.1 407.98,268.11 408.81,268.37 409.64,268.49 410.47,268.67 411.3,268.93 412.13,268.62 412.96,268.83 413.79,268.64 414.62,269.28 415.45,269.77 416.28,269.75 417.11,269.77 417.94,269.94 418.77,270.06 419.6,270.51 420.43,270.8 421.26,271.16 422.09,271.36 422.92,271.36 423.75,271.45 424.58,271.55 425.41,271.78 426.24,271.9 427.07,271.99 427.9,272.19 428.73,272.05 429.56,272.2 430.39,272.09 431.22,272.35 432.05,272.33 432.88,272.58 433.71,272.45 434.54,272.47 435.37,272.55 436.2,272.5 437.03,272.8 437.86,273.14 438.69,273.53 439.51,273.41 440.34,273.55 441.17,273.7 442,273.88 442.83,273.71 443.66,274.04 444.49,274.12 445.32,274.34 446.15,274.34 446.98,274.57 447.81,274.73 448.64,274.69 449.47,274.57 450.3,274.45 451.13,274.78 451.96,274.81 452.79,275.03 453.62,275.28 454.45,275.49 455.28,275.42 456.11,275.45 456.94,275.57 457.77,275.5 458.6,275.76" stroke="#008c00" stroke-dasharray="2.8 3.6"/>
<polyline points="259.45,152.3 260.28,153.88 261.11,155.5 261.94,156.94 262.77,158.48 263.6,160.03 264.43,161.27 265.26,162.78 266.09,164.32 266.92,165.56 267.75,166.72 268.58,168.24 269.41,169.41 270.24,171.31 271.07,172.68 271.9,174.16 272.73,175.88 273.56,177.71 274.39,179.74 275.22,181.07 276.05,182.71 276.88,183.66 277.71,184.8 278.54,186.36 279.37,187.32 280.19,188.48 281.02,189.35 281.85,190.75 282.68,191.59 283.51,193.46 284.34,194.7 285.17,196.32 286,198.07 286.83,198.45 287.66,200.41 288.49,200.67 289.32,201.13 290.15,202.04 290.98,202.49 291.81,203.15 292.64,203.81 293.47,204.7 294.3,205.79 295.13,207.02 295.96,208.37 296.79,208.97 297.62,210.09 298.45,210.39 299.28,212.21 300.11,213.31 300.94,214.5 301.77,216.06 302.6,215.88 303.43,217.35 304.26,217.95 305.09,218.47 305.92,218.8 306.75,220.36 307.58,220.57 308.41,221.38 309.24,222.08 310.07,222.99 310.9,223.45 311.73,224.24 312.56,225.06 313.39,225.29 314.22,225.54 315.05,227.13 315.88,227.03 316.71,227.17 317.54,228.1 318.37,228.67 319.19,229.49 320.02,229.45 320.85,230.21 321.68,230.98 322.51,231.71 323.34,232.36 324.17,233.17 325,234.07 325.83,233.95 326.66,235.25 327.49,236.85 328.32,237.3 329.15,237.97 329.98,238.4 330.81,238.95 331.64,239.47 332.47,239.65 333.3,239.75 334.13,240.44 334.96,241.1 335.79,240.99 336.62,241.54 337.45,242.75 338.28,242.6 339.11,242.97 339.94,243.61 340.77,244.69 341.6,245 342.43,245.7 343.26,246.44 344.09,247.28 344.92,247.75 345.75,247.54 346.58,247.95 347.41,248.75 348.24,248.84 349.07,249.24 349.9,249.39 350.73,249.41 351.56,249.68 352.39,250.24 353.22,250.71 354.05,251.51 354.88,251.59 355.71,251.56 356.54,251.8 357.37,252.46 358.2,253.04 359.02,253.49 359.85,254.11 360.68,254.58 361.51,255 362.34,255.31 363.17,256.08 364,256.34 364.83,256.48 365.66,257.06 366.49,257.97 367.32,258.13 368.15,257.92 368.98,258.21 369.81,258.49 370.64,258.97 371.47,258.88 372.3,259.32 373.13,259.24 373.96,259.47 374.79,259.63 375.62,259.79 376.45,260.13 377.28,260.65 378.11,260.93 378.94,261.2 379.77,261.29 380.6,261.54 381.43,261.92 382.26,262.07 383.09,261.98 383.92,262.13 384.75,262.61 385.58,262.94 386.41,263.13 387.24,263.35 388.07,263.6 388.9,263.71 389.73,264.02 390.56,264.28 391.39,264.17 392.22,264.24 393.05,264.67 393.88,264.81 394.71,264.91 395.54,265.19 396.37,265.51 397.2,265.54 398.03,266.14 398.86,266.42 399.68,266.43 400.51,266.53 401.34,266.93 402.17,267.1 403,267.55 403.83,267.48 404.66,267.59 405.49,267.84 406.32,268.05 407.15,268.36 407.98,268.48 408.81,268.85 409.64,268.87 410.47,268.87 411.3,269.17 412.13,268.95 412.96,269.04 413.79,268.93 414.62,269.55 415.45,270.11 416.28,269.98 417.11,270.06 417.94,270.33 418.77,270.57 419.6,270.88 420.43,271.06 421.26,271.36 422.09,271.5 422.92,271.49 423.75,271.62 424.58,271.72 425.41,271.87 426.24,272.02 427.07,272.09 427.9,272.27 428.73,272.12 429.56,272.41 430.39,272.23 431.22,272.52 432.05,272.39 432.88,272.69 433.71,272.59 434.54,272.74 435.37,272.82 436.2,272.87 437.03,273.03 437.86,273.4 438.69,273.78 439.51,273.65 440.34,273.78 441.17,274.01 442,274.08 442.83,273.93 443.66,274.18 444.49,274.25 445.32,274.39 446.15,274.34 446.98,274.68 447.81,274.75 448.64,274.64 449.47,274.61 450.3,274.51 451.13,274.71 451.96,274.9 452.79,275.04 453.62,275.28 454.45,275.5 455.28,275.41 456.11,275.44 456.94,275.52 457.77,275.49 458.6,275.75" stroke="#000000" stroke-dasharray="1.3 1.94"/>
<polyline points="259.45,152.3 260.28,153.89 261.11,155.5 261.94,156.98 262.77,158.54 263.6,160.05 264.43,161.25 265.26,162.71 266.09,164.22 266.92,165.48 267.75,166.68 268.58,168.02 269.41,169.29 270.24,170.89 271.07,172.39 271.9,173.91 272.73,175.8 273.56,177.67 274.39,179.5 275.22,181.02 276.05,182.59 276.88,183.59 277.71,184.7 278.54,186.4 279.37,187.7 280.19,189.06 281.02,189.59 281.85,191.11 282.68,191.94 283.51,193.8 284.34,195.13 285.17,197.09 286,198.46 286.83,198.83 287.66,200.55 288.49,201 289.32,201.79 290.15,202.83 290.98,203.45 291.81,204.27 292.64,204.4 293.47,205.43 294.3,206.55 295.13,207.6 295.96,208.58 296.79,209.52 297.62,210.21 298.45,210.61 299.28,212.12 300.11,213.4 300.94,214.63 301.77,216.12 302.6,215.77 303.43,217.4 304.26,217.95 305.09,218.64 305.92,218.88 306.75,220.13 307.58,220.22 308.41,221.13 309.24,222.01 310.07,222.77 310.9,223.04 311.73,224.25 312.56,224.83 313.39,225.61 314.22,225.55 315.05,227.24 315.88,227.31 316.71,227.55 317.54,228.4 318.37,228.91 319.19,229.7 320.02,229.85 320.85,230.4 321.68,231.03 322.51,231.5 323.34,232.36 324.17,233.03 325,233.8 325.83,233.65 326.66,235.03 327.49,236.66 328.32,237.14 329.15,237.96 329.98,238.38 330.81,238.92 331.64,239.48 332.47,239.79 333.3,239.93 334.13,240.7 334.96,241.11 335.79,240.93 336.62,241.32 337.45,242.4 338.28,242.19 339.11,242.48 339.94,243.13 340.77,244.09 341.6,244.38 342.43,245.17 343.26,246.05 344.09,246.52 344.92,247.19 345.75,247.26 346.58,247.76 347.41,248.57 348.24,248.73 349.07,249.06 349.9,249.17 350.73,249.33 351.56,249.67 352.39,249.99 353.22,250.49 354.05,251.17 354.88,251.3 355.71,251.24 356.54,251.47 357.37,252.16 358.2,252.77 359.02,253.3 359.85,253.89 360.68,254.39 361.51,255.04 362.34,255.54 363.17,255.99 364,256.1 364.83,256.25 365.66,256.77 366.49,257.82 367.32,257.88 368.15,257.77 368.98,257.98 369.81,258.13 370.64,258.51 371.47,258.65 372.3,259.09 373.13,259.2 373.96,259.43 374.79,259.5 375.62,259.71 376.45,260.09 377.28,260.76 378.11,261.09 378.94,261.25 379.77,261.39 380.6,261.51 381.43,262.06 382.26,262.29 383.09,262.33 383.92,262.43 384.75,262.72 385.58,263.03 386.41,263.15 387.24,263.12 388.07,263.49 388.9,263.63 389.73,263.88 390.56,264.22 391.39,264.19 392.22,264.09 393.05,264.51 393.88,264.75 394.71,265 395.54,265.36 396.37,265.73 397.2,265.81 398.03,266.37 398.86,266.32 399.68,266.43 400.51,266.53 401.34,266.97 402.17,267.12 403,267.43 403.83,267.39 404.66,267.49 405.49,267.68 406.32,268.04 407.15,268.37 407.98,268.39 408.81,268.71 409.64,268.7 410.47,268.79 411.3,269.06 412.13,268.86 412.96,269.16 413.79,268.95 414.62,269.47 415.45,270.03 416.28,270.12 417.11,270.1 417.94,270.22 418.77,270.37 419.6,270.83 420.43,271.01 421.26,271.29 422.09,271.34 422.92,271.36 423.75,271.48 424.58,271.61 425.41,271.86 426.24,271.96 427.07,272.09 427.9,272.17 428.73,272.13 429.56,272.4 430.39,272.22 431.22,272.45 432.05,272.4 432.88,272.62 433.71,272.57 434.54,272.73 435.37,272.74 436.2,272.75 437.03,273.07 437.86,273.35 438.69,273.6 439.51,273.59 440.34,273.72 441.17,273.87 442,273.92 442.83,273.75 443.66,274.11 444.49,274.19 445.32,274.3 446.15,274.27 446.98,274.65 447.81,274.77 448.64,274.78 449.47,274.73 450.3,274.63 451.13,274.82 451.96,274.97 452.79,275.09 453.62,275.31 454.45,275.62 455.28,275.55 456.11,275.57 456.94,275.65 457.77,275.51 458.6,275.74" stroke="#ff00ff" stroke-dasharray="8 2.3 1.6 2.3"/>
</g>
<rect x="259.45" y="152.3" width="199.15" height="129.7" fill="none" stroke="#000" stroke-width="1"/>
<g font-family='"Liberation Serif", serif' font-size="15.2" fill="#000">
<text x="269.2" y="166.4" letter-spacing="-0.19">non-identical dots, SR coupling</text>
<text x="262.85" y="276.7" letter-spacing="-0.1">(d)</text>
<text x="387.75" y="189.7" font-size="15.5" text-anchor="end">A</text>
<path d="M397.25 184.45H429.25" stroke="#ff0000" stroke-width="1.6" fill="none"/>
<text x="387.75" y="202.85" font-size="15.5" text-anchor="end">B</text>
<path d="M397.25 197.6H429.25" stroke="#0000ff" stroke-width="1.6" stroke-dasharray="5.2 2.5" fill="none"/>
<text x="387.75" y="216" font-size="15.5" text-anchor="end">C</text>
<path d="M397.25 210.75H429.25" stroke="#008c00" stroke-width="1.6" stroke-dasharray="2.8 3.6" fill="none"/>
<text x="387.75" y="229.15" font-size="15.5" text-anchor="end">D</text>
<path d="M397.25 223.9H429.25" stroke="#000000" stroke-width="1.6" stroke-dasharray="1.3 1.94" fill="none"/>
<text x="387.75" y="242.3" font-size="15.5" text-anchor="end">E</text>
<path d="M397.25 237.05H429.25" stroke="#ff00ff" stroke-width="1.6" stroke-dasharray="8 2.3 1.6 2.3" fill="none"/>
<text x="259.45" y="302.8" font-size="15.6" text-anchor="middle">0</text>
<text x="325.83" y="302.8" font-size="15.6" text-anchor="middle">1</text>
<text x="392.22" y="302.8" font-size="15.6" text-anchor="middle">2</text>
<text x="458.6" y="302.8" font-size="15.6" text-anchor="middle">3</text>
<text x="359.02" y="320.5" text-anchor="middle"><tspan font-style="italic">t</tspan> (ns)</text>
</g>
</svg>
</body></html>
